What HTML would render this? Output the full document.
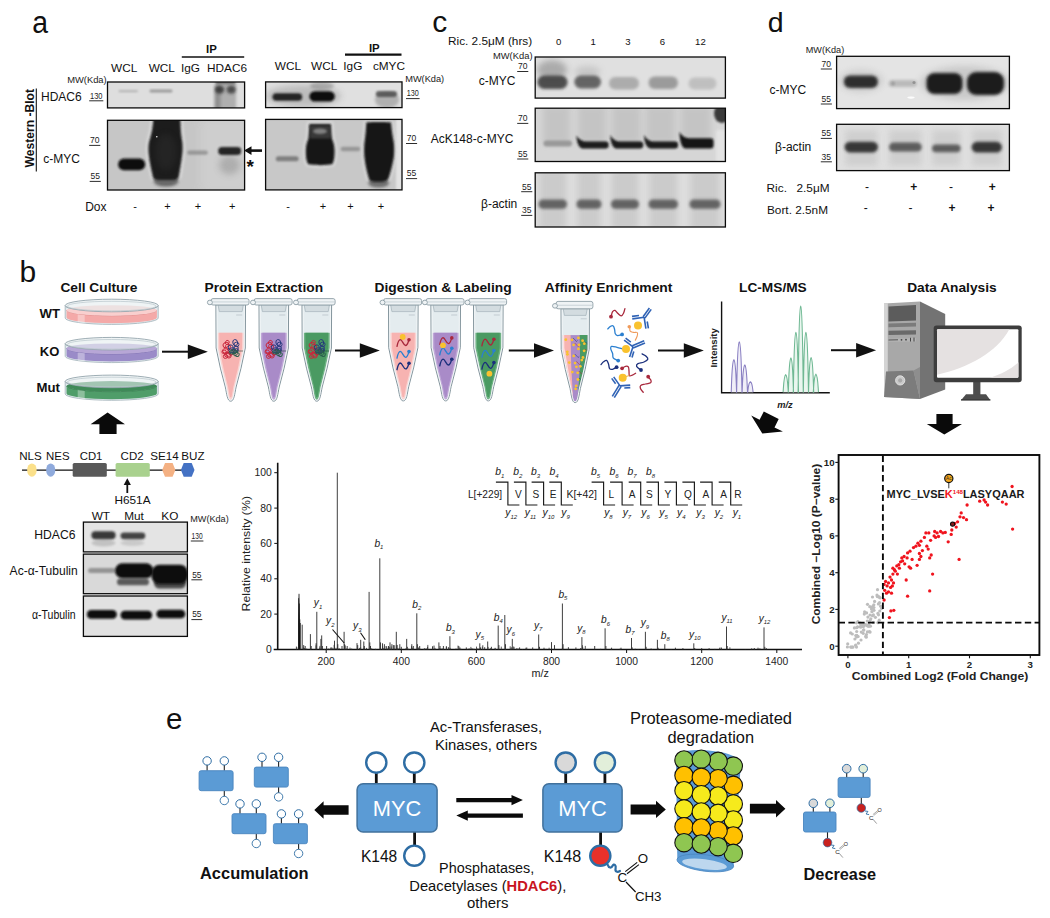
<!DOCTYPE html>
<html lang="en"><head><meta charset="utf-8"><title>Figure</title>
<style>
html,body{margin:0;padding:0;background:#fff;}
body{width:1050px;height:918px;overflow:hidden;position:relative;font-family:"Liberation Sans",Arial,sans-serif;}
svg{position:absolute;left:0;top:0;display:block;}
svg text{font-family:"Liberation Sans",Arial,sans-serif;}
</style></head><body>
<svg width="1050" height="918" viewBox="0 0 1050 918">
<defs>
<filter id="b0" x="-20%" y="-50%" width="140%" height="200%"><feGaussianBlur stdDeviation="0.5"/></filter>
<filter id="b1" x="-20%" y="-50%" width="140%" height="200%"><feGaussianBlur stdDeviation="1"/></filter>
<filter id="b2" x="-30%" y="-80%" width="160%" height="260%"><feGaussianBlur stdDeviation="1.8"/></filter>
<filter id="b3" x="-40%" y="-100%" width="180%" height="300%"><feGaussianBlur stdDeviation="3"/></filter>
<filter id="b4" x="-50%" y="-100%" width="200%" height="300%"><feGaussianBlur stdDeviation="5"/></filter>
</defs>
<rect width="1050" height="918" fill="#fff"/>

<g id="panelA">
<text x="32.3" y="32.6" font-size="31" text-anchor="start" font-weight="normal" font-style="normal" fill="#111" textLength="15.8" lengthAdjust="spacingAndGlyphs">a</text>
<text transform="translate(34,167.5) rotate(-90)" font-size="12" font-weight="bold" fill="#111" textLength="78.5" lengthAdjust="spacingAndGlyphs">Western -Blot</text>
<line x1="36.3" y1="88.5" x2="36.3" y2="171.5" stroke="#111" stroke-width="1.1"/>
<text x="111" y="71.8" font-size="11.8" text-anchor="start" font-weight="normal" font-style="normal" fill="#111" >WCL</text>
<text x="148.7" y="71.8" font-size="11.8" text-anchor="start" font-weight="normal" font-style="normal" fill="#111" >WCL</text>
<text x="181" y="71.8" font-size="11.8" text-anchor="start" font-weight="normal" font-style="normal" fill="#111" >IgG</text>
<text x="207" y="71.8" font-size="11.8" text-anchor="start" font-weight="normal" font-style="normal" fill="#111" >HDAC6</text>
<text x="211.5" y="52.7" font-size="11.4" text-anchor="middle" font-weight="bold" font-style="normal" fill="#111" >IP</text>
<line x1="181.8" y1="57" x2="244.2" y2="57" stroke="#111" stroke-width="1.6"/>
<text x="67.2" y="82.6" font-size="9" fill="#222" textLength="39.5" lengthAdjust="spacingAndGlyphs">MW(Kda)</text>
<text x="41" y="101.3" font-size="12" text-anchor="start" font-weight="normal" font-style="normal" fill="#111" >HDAC6</text>
<text x="90" y="98.6" font-size="8.5" fill="#222" textLength="12.5" lengthAdjust="spacingAndGlyphs">130</text><line x1="89.2" y1="100.8" x2="103.3" y2="100.8" stroke="#222" stroke-width="0.95"/>
<text x="90" y="143.2" font-size="8.5" fill="#222" textLength="9.5" lengthAdjust="spacingAndGlyphs">70</text><line x1="89.2" y1="145.39999999999998" x2="100.3" y2="145.39999999999998" stroke="#222" stroke-width="0.95"/>
<text x="90.5" y="179.2" font-size="8.5" fill="#222" textLength="9.5" lengthAdjust="spacingAndGlyphs">55</text><line x1="89.7" y1="181.39999999999998" x2="100.8" y2="181.39999999999998" stroke="#222" stroke-width="0.95"/>
<text x="43.2" y="163.2" font-size="12" text-anchor="start" font-weight="normal" font-style="normal" fill="#111" >c-MYC</text>
<text x="85.2" y="211" font-size="12" text-anchor="start" font-weight="normal" font-style="normal" fill="#111" >Dox</text>
<text x="135" y="210" font-size="11" text-anchor="middle" font-weight="normal" font-style="normal" fill="#111" >-</text>
<text x="167.4" y="210" font-size="11" text-anchor="middle" font-weight="normal" font-style="normal" fill="#111" >+</text>
<text x="197.9" y="210" font-size="11" text-anchor="middle" font-weight="normal" font-style="normal" fill="#111" >+</text>
<text x="232.1" y="210" font-size="11" text-anchor="middle" font-weight="normal" font-style="normal" fill="#111" >+</text>
<clipPath id="bc1"><rect x="107.5" y="82" width="137.1" height="25.900000000000006"/></clipPath><rect x="107.5" y="82" width="137.1" height="25.900000000000006" fill="#dedede"/><g clip-path="url(#bc1)"><rect x="118.5" y="89.9" width="19.5" height="2.3999999999999915" rx="1.1999999999999957" ry="1.1999999999999957" fill="#888" opacity="0.45" filter="url(#b1)"/><rect x="149.5" y="89.6" width="23.0" height="3.0" rx="1.5" ry="1.5" fill="#666" opacity="0.55" filter="url(#b1)"/><rect x="215" y="80" width="21" height="30" fill="#808080" opacity="0.5" filter="url(#b2)"/><rect x="214.5" y="86" width="6" height="24" fill="#555" opacity="0.35" filter="url(#b2)"/><ellipse cx="219.6" cy="89.6" rx="4.6" ry="4" fill="#222" opacity="0.75" filter="url(#b2)"/><ellipse cx="231.2" cy="89.6" rx="4.6" ry="4" fill="#222" opacity="0.7" filter="url(#b2)"/><rect x="216" y="81" width="19" height="3" fill="#333" opacity="0.45" filter="url(#b1)"/></g><rect x="107.5" y="82" width="137.1" height="25.900000000000006" fill="none" stroke="#0a0a0a" stroke-width="1.3"/>
<clipPath id="bc2"><rect x="107.5" y="120.3" width="137.1" height="69.7"/></clipPath><rect x="107.5" y="120.3" width="137.1" height="69.7" fill="#c6c6c6"/><g clip-path="url(#bc2)"><rect x="200" y="118" width="50" height="75" fill="#d2d2d2" opacity="0.7" filter="url(#b4)"/><path d="M153.3,119 L180.3,119 C180.6,128 180.8,134 182.3,142 C182.8,148 182.6,152 182,156 C181,164 179.6,172 178.9,176 C178,179.5 176,180 172,180 L159,180 C155,180 153.4,179.5 152.7,176 C151.5,170 149.5,162 148.8,155 C148.3,150 148.3,146 149,142 C151.5,134 152.8,128 153.3,119 Z" fill="none" stroke="#e2e2e2" stroke-width="5" opacity="0.8" filter="url(#b2)"/><ellipse cx="166" cy="181" rx="12.5" ry="5.5" fill="#444" opacity="0.75" filter="url(#b2)"/><path d="M153.3,119 L180.3,119 C180.6,128 180.8,134 182.3,142 C182.8,148 182.6,152 182,156 C181,164 179.6,172 178.9,176 C178,179.5 176,180 172,180 L159,180 C155,180 153.4,179.5 152.7,176 C151.5,170 149.5,162 148.8,155 C148.3,150 148.3,146 149,142 C151.5,134 152.8,128 153.3,119 Z" fill="#1a1a1a" filter="url(#b1)"/><ellipse cx="166" cy="152" rx="10" ry="18" fill="#383838" opacity="0.3" filter="url(#b3)"/><circle cx="156.8" cy="136.8" r="0.8" fill="#e8e8e8"/><rect x="118.1" y="158.6" width="27.099999999999994" height="11.700000000000017" rx="5.8500000000000085" ry="5.8500000000000085" fill="#0e0e0e" opacity="1" filter="url(#b1)"/><rect x="187.2" y="150.4" width="20.700000000000017" height="4.400000000000006" rx="2.200000000000003" ry="2.200000000000003" fill="#777" opacity="0.6" filter="url(#b1)"/><ellipse cx="229.5" cy="165" rx="10.5" ry="9.5" fill="#888" opacity="0.45" filter="url(#b3)"/><rect x="218.2" y="147" width="23.0" height="7.900000000000006" rx="3.950000000000003" ry="3.950000000000003" fill="#1a1a1a" opacity="0.95" filter="url(#b1)"/></g><rect x="107.5" y="120.3" width="137.1" height="69.7" fill="none" stroke="#0a0a0a" stroke-width="1.3"/>
<path d="M262,150.6 L250,150.6" stroke="#111" stroke-width="2.6" fill="none"/><path d="M244,150.6 L251.5,146.2 L251.5,155 Z" fill="#111"/>
<text x="250.3" y="172.5" font-size="19" text-anchor="middle" font-weight="bold" font-style="normal" fill="#111" >*</text>
<text x="274.8" y="70.2" font-size="11.8" text-anchor="start" font-weight="normal" font-style="normal" fill="#111" >WCL</text>
<text x="311" y="70.2" font-size="11.8" text-anchor="start" font-weight="normal" font-style="normal" fill="#111" >WCL</text>
<text x="343.3" y="70.2" font-size="11.8" text-anchor="start" font-weight="normal" font-style="normal" fill="#111" >IgG</text>
<text x="372.9" y="70.2" font-size="11.8" text-anchor="start" font-weight="normal" font-style="normal" fill="#111" >cMYC</text>
<text x="374.3" y="51.5" font-size="11.4" text-anchor="middle" font-weight="bold" font-style="normal" fill="#111" >IP</text>
<line x1="345" y1="54.6" x2="401.5" y2="54.6" stroke="#111" stroke-width="2.2"/>
<text x="405.2" y="81.6" font-size="9" fill="#222" textLength="39" lengthAdjust="spacingAndGlyphs">MW(Kda)</text>
<text x="406.8" y="96.4" font-size="8.5" fill="#222" textLength="12" lengthAdjust="spacingAndGlyphs">130</text><line x1="406.0" y1="98.60000000000001" x2="419.6" y2="98.60000000000001" stroke="#222" stroke-width="0.95"/>
<text x="406.8" y="141.3" font-size="8.5" fill="#222" textLength="9.5" lengthAdjust="spacingAndGlyphs">70</text><line x1="406.0" y1="143.5" x2="417.1" y2="143.5" stroke="#222" stroke-width="0.95"/>
<text x="406.8" y="176.4" font-size="8.5" fill="#222" textLength="9.5" lengthAdjust="spacingAndGlyphs">55</text><line x1="406.0" y1="178.6" x2="417.1" y2="178.6" stroke="#222" stroke-width="0.95"/>
<text x="288" y="210.3" font-size="11" text-anchor="middle" font-weight="normal" font-style="normal" fill="#111" >-</text>
<text x="323" y="210.3" font-size="11" text-anchor="middle" font-weight="normal" font-style="normal" fill="#111" >+</text>
<text x="350.4" y="210.3" font-size="11" text-anchor="middle" font-weight="normal" font-style="normal" fill="#111" >+</text>
<text x="381" y="210.3" font-size="11" text-anchor="middle" font-weight="normal" font-style="normal" fill="#111" >+</text>
<clipPath id="bc3"><rect x="265.6" y="81.9" width="136.39999999999998" height="25.69999999999999"/></clipPath><rect x="265.6" y="81.9" width="136.39999999999998" height="25.69999999999999" fill="#e0e0e0"/><g clip-path="url(#bc3)"><ellipse cx="303" cy="96" rx="38" ry="11" fill="#888" opacity="0.4" filter="url(#b3)"/><ellipse cx="322" cy="86" rx="12" ry="4" fill="#777" opacity="0.45" filter="url(#b2)"/><rect x="272.5" y="93.2" width="29.69999999999999" height="7.599999999999994" rx="3.799999999999997" ry="3.799999999999997" fill="#1e1e1e" opacity="0.95" filter="url(#b1)"/><rect x="309.4" y="91.2" width="25.400000000000034" height="10.399999999999991" rx="5.199999999999996" ry="5.199999999999996" fill="#101010" opacity="1" filter="url(#b1)"/><ellipse cx="387" cy="100" rx="12" ry="8" fill="#777" opacity="0.45" filter="url(#b2)"/><rect x="375.8" y="91" width="21.19999999999999" height="6" rx="3.0" ry="3.0" fill="#444" opacity="0.8" filter="url(#b1)"/></g><rect x="265.6" y="81.9" width="136.39999999999998" height="25.69999999999999" fill="none" stroke="#0a0a0a" stroke-width="1.3"/>
<clipPath id="bc4"><rect x="265.6" y="119.4" width="136.39999999999998" height="70.5"/></clipPath><rect x="265.6" y="119.4" width="136.39999999999998" height="70.5" fill="#c8c8c8"/><g clip-path="url(#bc4)"><rect x="396" y="118" width="8" height="74" fill="#e6e6e6" opacity="0.9" filter="url(#b1)"/><path d="M309.3,124 L330.8,124 C331.2,130 331.2,135 332,139 C333.5,142 334.6,146 334.6,151 C334.6,157 334,161 332.5,164 C328,165.5 312,165.5 308,164 C306.3,161 305.8,157 305.8,151 C305.8,146 306.8,142 308.3,139 C309,135 309,130 309.3,124 Z" fill="none" stroke="#e0e0e0" stroke-width="5" opacity="0.8" filter="url(#b2)"/><path d="M366.3,122.6 C366.3,121.8 391.1,121.8 391.1,122.6 C391.6,130 392.6,136 393.9,143 C394.3,148 394.3,152 393.9,157 C392.6,165 390.5,172 389,177 C388,181 385,181.8 380,181.8 L376,181.8 C371,181.8 369.2,181 368.4,177 C367,172 365.2,165 364.4,157 C364,152 364,148 364.4,143 C365.4,136 366,130 366.3,122.6 Z" fill="none" stroke="#e0e0e0" stroke-width="5" opacity="0.8" filter="url(#b2)"/><rect x="275.8" y="156.2" width="22.80000000000001" height="5.100000000000023" rx="2.5500000000000114" ry="2.5500000000000114" fill="#666" opacity="0.75" filter="url(#b1)"/><path d="M309.3,124 L330.8,124 C331.2,130 331.2,135 332,139 C333.5,142 334.6,146 334.6,151 C334.6,157 334,161 332.5,164 C328,165.5 312,165.5 308,164 C306.3,161 305.8,157 305.8,151 C305.8,146 306.8,142 308.3,139 C309,135 309,130 309.3,124 Z" fill="#141414" filter="url(#b1)"/><rect x="310" y="125.5" width="20.5" height="13" fill="#555" opacity="0.55" filter="url(#b1)"/><ellipse cx="320" cy="131.3" rx="7" ry="2.8" fill="#999" opacity="0.75" filter="url(#b1)"/><rect x="340.7" y="146.8" width="19.5" height="4.399999999999977" rx="2.1999999999999886" ry="2.1999999999999886" fill="#777" opacity="0.6" filter="url(#b1)"/><ellipse cx="378.6" cy="183" rx="10.5" ry="4.5" fill="#444" opacity="0.7" filter="url(#b2)"/><path d="M366.3,122.6 C366.3,121.8 391.1,121.8 391.1,122.6 C391.6,130 392.6,136 393.9,143 C394.3,148 394.3,152 393.9,157 C392.6,165 390.5,172 389,177 C388,181 385,181.8 380,181.8 L376,181.8 C371,181.8 369.2,181 368.4,177 C367,172 365.2,165 364.4,157 C364,152 364,148 364.4,143 C365.4,136 366,130 366.3,122.6 Z" fill="#161616" filter="url(#b1)"/></g><rect x="265.6" y="119.4" width="136.39999999999998" height="70.5" fill="none" stroke="#0a0a0a" stroke-width="1.3"/>
</g>
<g id="panelC">
<text x="432.2" y="32" font-size="30" text-anchor="start" font-weight="normal" font-style="normal" fill="#111" >c</text>
<text x="448" y="45.4" font-size="11.8" text-anchor="start" font-weight="normal" font-style="normal" fill="#111" >Ric. 2.5μM (hrs)</text>
<text x="558.7" y="44.8" font-size="9.6" text-anchor="middle" font-weight="normal" font-style="normal" fill="#111" >0</text>
<text x="593.1" y="44.8" font-size="9.6" text-anchor="middle" font-weight="normal" font-style="normal" fill="#111" >1</text>
<text x="627.9" y="44.8" font-size="9.6" text-anchor="middle" font-weight="normal" font-style="normal" fill="#111" >3</text>
<text x="662.3" y="44.8" font-size="9.6" text-anchor="middle" font-weight="normal" font-style="normal" fill="#111" >6</text>
<text x="700.4" y="44.8" font-size="9.6" text-anchor="middle" font-weight="normal" font-style="normal" fill="#111" >12</text>
<text x="493" y="59.3" font-size="9" fill="#222" textLength="39.5" lengthAdjust="spacingAndGlyphs">MW(Kda)</text>
<text x="518" y="69.3" font-size="8.5" fill="#222" textLength="9.5" lengthAdjust="spacingAndGlyphs">70</text><line x1="517.2" y1="71.5" x2="528.3" y2="71.5" stroke="#222" stroke-width="0.95"/>
<text x="478.8" y="85.4" font-size="12" text-anchor="start" font-weight="normal" font-style="normal" fill="#111" >c-MYC</text>
<text x="518" y="121.2" font-size="8.5" fill="#222" textLength="9.5" lengthAdjust="spacingAndGlyphs">70</text><line x1="517.2" y1="123.4" x2="528.3" y2="123.4" stroke="#222" stroke-width="0.95"/>
<text x="430.7" y="143" font-size="12" text-anchor="start" font-weight="normal" font-style="normal" fill="#111" >AcK148-c-MYC</text>
<text x="518" y="156.8" font-size="8.5" fill="#222" textLength="9.5" lengthAdjust="spacingAndGlyphs">55</text><line x1="517.2" y1="159.0" x2="528.3" y2="159.0" stroke="#222" stroke-width="0.95"/>
<text x="522" y="189.5" font-size="8.5" fill="#222" textLength="9.5" lengthAdjust="spacingAndGlyphs">55</text><line x1="521.2" y1="191.7" x2="532.3" y2="191.7" stroke="#222" stroke-width="0.95"/>
<text x="481" y="208" font-size="12" text-anchor="start" font-weight="normal" font-style="normal" fill="#111" >β-actin</text>
<text x="522" y="213.2" font-size="8.5" fill="#222" textLength="9.5" lengthAdjust="spacingAndGlyphs">35</text><line x1="521.2" y1="215.39999999999998" x2="532.3" y2="215.39999999999998" stroke="#222" stroke-width="0.95"/>
<clipPath id="bc5"><rect x="535.2" y="57" width="190.19999999999993" height="41.099999999999994"/></clipPath><rect x="535.2" y="57" width="190.19999999999993" height="41.099999999999994" fill="#e0e0e0"/><g clip-path="url(#bc5)"><ellipse cx="552" cy="70" rx="15" ry="10" fill="#777" opacity="0.5" filter="url(#b3)"/><rect x="537.5" y="75.5" width="30.0" height="13.5" rx="6.75" ry="6.75" fill="#3c3c3c" opacity="0.9" filter="url(#b2)"/><ellipse cx="587.5" cy="72" rx="13" ry="6" fill="#999" opacity="0.35" filter="url(#b3)"/><rect x="574.3" y="75.5" width="26.700000000000045" height="13.0" rx="6.5" ry="6.5" fill="#505050" opacity="0.85" filter="url(#b2)"/><rect x="609" y="77" width="30" height="12.5" rx="6.25" ry="6.25" fill="#8a8a8a" opacity="0.6" filter="url(#b2)"/><rect x="648.5" y="76.5" width="29.5" height="12.5" rx="6.25" ry="6.25" fill="#777" opacity="0.65" filter="url(#b2)"/><rect x="688.5" y="77.5" width="28.0" height="12.0" rx="6.0" ry="6.0" fill="#999" opacity="0.45" filter="url(#b2)"/></g><rect x="535.2" y="57" width="190.19999999999993" height="41.099999999999994" fill="none" stroke="#0a0a0a" stroke-width="1.3"/>
<clipPath id="bc6"><rect x="535.2" y="108.2" width="190.19999999999993" height="53.3"/></clipPath><rect x="535.2" y="108.2" width="190.19999999999993" height="53.3" fill="#d6d6d6"/><g clip-path="url(#bc6)"><rect x="543" y="106" width="27" height="38" fill="#aaa" opacity="0.4" filter="url(#b3)"/><rect x="578" y="106" width="28" height="38" fill="#aaa" opacity="0.4" filter="url(#b3)"/><rect x="612" y="106" width="28.5" height="38" fill="#aaa" opacity="0.4" filter="url(#b3)"/><rect x="646" y="106" width="29" height="38" fill="#aaa" opacity="0.4" filter="url(#b3)"/><rect x="681" y="106" width="30" height="38" fill="#aaa" opacity="0.4" filter="url(#b3)"/><rect x="543.5" y="140.4" width="28.5" height="6.0" rx="3.0" ry="3.0" fill="#888" opacity="0.75" filter="url(#b1)"/><path d="M576.4,135.4 C578.9,139.6 582.4,141.4 587.4,141.4 L605.6,141.4 Q608.6,141.4 608.6,144.4 L608.6,145.6 Q608.6,148.6 605.6,148.6 L583.4,148.6 C579.4,148.6 576.9,143.6 576.4,135.4 Z" fill="#1c1c1c" filter="url(#b1)"/><path d="M610.2,134.9 C612.7,139.5 616.2,141.4 621.2,141.4 L640.2,141.4 Q643.2,141.4 643.2,144.4 L643.2,145.6 Q643.2,148.6 640.2,148.6 L617.2,148.6 C613.2,148.6 610.7,143.6 610.2,134.9 Z" fill="#1c1c1c" filter="url(#b1)"/><path d="M644,134.9 C646.5,139.5 650,141.4 655,141.4 L675,141.4 Q678,141.4 678,144.4 L678,145.4 Q678,148.4 675,148.4 L651,148.4 C647,148.4 644.5,143.4 644,134.9 Z" fill="#1c1c1c" filter="url(#b1)"/><path d="M679.4,131.7 C681.9,136.2 685.4,138.2 690.4,138.2 L710.6,138.2 Q713.6,138.2 713.6,141.2 L713.6,145.6 Q713.6,148.6 710.6,148.6 L686.4,148.6 C682.4,148.6 679.9,143.6 679.4,131.7 Z" fill="#161616" filter="url(#b1)"/><ellipse cx="722" cy="113.5" rx="8" ry="9.5" fill="#2c2c2c" opacity="0.9" filter="url(#b1)"/><rect x="716" y="130" width="12" height="34" fill="#e6e6e6" opacity="0.8" filter="url(#b2)"/></g><rect x="535.2" y="108.2" width="190.19999999999993" height="53.3" fill="none" stroke="#0a0a0a" stroke-width="1.3"/>
<clipPath id="bc7"><rect x="535.2" y="172.8" width="190.19999999999993" height="54.19999999999999"/></clipPath><rect x="535.2" y="172.8" width="190.19999999999993" height="54.19999999999999" fill="#dedede"/><g clip-path="url(#bc7)"><rect x="539.5" y="170" width="26.5" height="60" fill="#a0a0a0" opacity="0.3" filter="url(#b3)"/><rect x="577.5" y="170" width="23.0" height="60" fill="#a0a0a0" opacity="0.3" filter="url(#b3)"/><rect x="612" y="170" width="26" height="60" fill="#a0a0a0" opacity="0.3" filter="url(#b3)"/><rect x="649.5" y="170" width="27.5" height="60" fill="#a0a0a0" opacity="0.3" filter="url(#b3)"/><rect x="690.5" y="170" width="29.0" height="60" fill="#a0a0a0" opacity="0.3" filter="url(#b3)"/><rect x="538.5" y="199.5" width="28.5" height="9.300000000000011" rx="4.650000000000006" ry="4.650000000000006" fill="#4a4a4a" opacity="0.8" filter="url(#b2)"/><rect x="576.5" y="199.5" width="25.0" height="9.300000000000011" rx="4.650000000000006" ry="4.650000000000006" fill="#4a4a4a" opacity="0.8" filter="url(#b2)"/><rect x="611" y="199.5" width="28" height="9.300000000000011" rx="4.650000000000006" ry="4.650000000000006" fill="#4a4a4a" opacity="0.8" filter="url(#b2)"/><rect x="648.5" y="199.5" width="29.5" height="9.300000000000011" rx="4.650000000000006" ry="4.650000000000006" fill="#4a4a4a" opacity="0.8" filter="url(#b2)"/><rect x="689.5" y="199.5" width="31.0" height="9.300000000000011" rx="4.650000000000006" ry="4.650000000000006" fill="#4a4a4a" opacity="0.8" filter="url(#b2)"/></g><rect x="535.2" y="172.8" width="190.19999999999993" height="54.19999999999999" fill="none" stroke="#0a0a0a" stroke-width="1.3"/>
</g>
<g id="panelD">
<text x="767.8" y="32" font-size="28.5" text-anchor="start" font-weight="normal" font-style="normal" fill="#111" >d</text>
<text x="805.7" y="52.8" font-size="9" fill="#222" textLength="38.5" lengthAdjust="spacingAndGlyphs">MW(Kda)</text>
<text x="821.6" y="66.8" font-size="8.5" fill="#222" textLength="9.5" lengthAdjust="spacingAndGlyphs">70</text><line x1="820.8000000000001" y1="69.0" x2="831.9" y2="69.0" stroke="#222" stroke-width="0.95"/>
<text x="769.4" y="93.5" font-size="12" text-anchor="start" font-weight="normal" font-style="normal" fill="#111" >c-MYC</text>
<text x="821.6" y="101.8" font-size="8.5" fill="#222" textLength="9.5" lengthAdjust="spacingAndGlyphs">55</text><line x1="820.8000000000001" y1="104.0" x2="831.9" y2="104.0" stroke="#222" stroke-width="0.95"/>
<text x="821.6" y="136.2" font-size="8.5" fill="#222" textLength="9.5" lengthAdjust="spacingAndGlyphs">55</text><line x1="820.8000000000001" y1="138.39999999999998" x2="831.9" y2="138.39999999999998" stroke="#222" stroke-width="0.95"/>
<text x="775" y="151" font-size="12" text-anchor="start" font-weight="normal" font-style="normal" fill="#111" >β-actin</text>
<text x="821.6" y="159.6" font-size="8.5" fill="#222" textLength="9.5" lengthAdjust="spacingAndGlyphs">35</text><line x1="820.8000000000001" y1="161.79999999999998" x2="831.9" y2="161.79999999999998" stroke="#222" stroke-width="0.95"/>
<text x="766.6" y="192" font-size="11.8" text-anchor="start" font-weight="normal" font-style="normal" fill="#111" >Ric.</text>
<text x="796.5" y="192" font-size="11.8" text-anchor="start" font-weight="normal" font-style="normal" fill="#111" >2.5μM</text>
<text x="767" y="213.6" font-size="11.8" text-anchor="start" font-weight="normal" font-style="normal" fill="#111" >Bort. 2.5nM</text>
<text x="867" y="190.5" font-size="12" text-anchor="middle" font-weight="normal" font-style="normal" fill="#111" >-</text>
<text x="913.7" y="190.5" font-size="12" text-anchor="middle" font-weight="bold" font-style="normal" fill="#111" >+</text>
<text x="950.9" y="190.5" font-size="12" text-anchor="middle" font-weight="normal" font-style="normal" fill="#111" >-</text>
<text x="992.3" y="190.5" font-size="12" text-anchor="middle" font-weight="bold" font-style="normal" fill="#111" >+</text>
<text x="865.7" y="211.5" font-size="12" text-anchor="middle" font-weight="normal" font-style="normal" fill="#111" >-</text>
<text x="910.6" y="211.5" font-size="12" text-anchor="middle" font-weight="normal" font-style="normal" fill="#111" >-</text>
<text x="952" y="211.5" font-size="12" text-anchor="middle" font-weight="bold" font-style="normal" fill="#111" >+</text>
<text x="990.9" y="211.5" font-size="12" text-anchor="middle" font-weight="bold" font-style="normal" fill="#111" >+</text>
<clipPath id="bc8"><rect x="836.6" y="56.3" width="172.79999999999995" height="52.3"/></clipPath><rect x="836.6" y="56.3" width="172.79999999999995" height="52.3" fill="#e4e4e4"/><g clip-path="url(#bc8)"><ellipse cx="965" cy="83" rx="45" ry="17" fill="#999" opacity="0.35" filter="url(#b3)"/><ellipse cx="861" cy="81" rx="22" ry="11" fill="#999" opacity="0.3" filter="url(#b3)"/><rect x="843.8" y="75.5" width="34.200000000000045" height="12.5" rx="6.25" ry="6.25" fill="#262626" opacity="0.95" filter="url(#b2)"/><rect x="888.5" y="80" width="28.5" height="7" rx="3.5" ry="3.5" fill="#999" opacity="0.55" filter="url(#b2)"/><circle cx="893" cy="83.5" r="2" fill="#888" opacity="0.6" filter="url(#b1)"/><circle cx="914" cy="82.5" r="1.6" fill="#777" opacity="0.6" filter="url(#b0)"/><ellipse cx="911" cy="97.6" rx="3.6" ry="1.1" fill="#fff" opacity="0.9" filter="url(#b0)"/><rect x="926.5" y="73" width="36.0" height="21" rx="8" ry="8" fill="#1e1e1e" opacity="1" filter="url(#b2)"/><rect x="967" y="72" width="37" height="23" rx="9" ry="9" fill="#1e1e1e" opacity="1" filter="url(#b2)"/></g><rect x="836.6" y="56.3" width="172.79999999999995" height="52.3" fill="none" stroke="#0a0a0a" stroke-width="1.3"/>
<clipPath id="bc9"><rect x="836.6" y="124.3" width="172.79999999999995" height="46.3"/></clipPath><rect x="836.6" y="124.3" width="172.79999999999995" height="46.3" fill="#e0e0e0"/><g clip-path="url(#bc9)"><rect x="845" y="130" width="32.60000000000002" height="36" fill="#aaa" opacity="0.3" filter="url(#b3)"/><rect x="889" y="130" width="32.60000000000002" height="36" fill="#aaa" opacity="0.3" filter="url(#b3)"/><rect x="932" y="130" width="28.5" height="36" fill="#aaa" opacity="0.3" filter="url(#b3)"/><rect x="971.8" y="130" width="30.200000000000045" height="36" fill="#aaa" opacity="0.3" filter="url(#b3)"/><rect x="844.5" y="141.8" width="33.5" height="10.599999999999994" rx="5.299999999999997" ry="5.299999999999997" fill="#2c2c2c" opacity="0.92" filter="url(#b2)"/><rect x="889" y="142.6" width="32.799999999999955" height="9.0" rx="4.5" ry="4.5" fill="#484848" opacity="0.85" filter="url(#b2)"/><rect x="932" y="144.4" width="28.600000000000023" height="7.799999999999983" rx="3.8999999999999915" ry="3.8999999999999915" fill="#484848" opacity="0.85" filter="url(#b2)"/><rect x="971.6" y="141.8" width="30.399999999999977" height="10.799999999999983" rx="5.3999999999999915" ry="5.3999999999999915" fill="#2c2c2c" opacity="0.92" filter="url(#b2)"/></g><rect x="836.6" y="124.3" width="172.79999999999995" height="46.3" fill="none" stroke="#0a0a0a" stroke-width="1.3"/>
</g>
<g id="panelB1">
<text x="19.5" y="281.8" font-size="30" text-anchor="start" font-weight="normal" font-style="normal" fill="#111" >b</text>
<text x="98.9" y="292.2" font-size="13.2" text-anchor="middle" font-weight="bold" fill="#111" textLength="77" lengthAdjust="spacingAndGlyphs">Cell Culture</text>
<text x="263.8" y="292" font-size="13.2" text-anchor="middle" font-weight="bold" fill="#111" textLength="118.5" lengthAdjust="spacingAndGlyphs">Protein Extraction</text>
<text x="443.1" y="292" font-size="13.2" text-anchor="middle" font-weight="bold" fill="#111" textLength="137" lengthAdjust="spacingAndGlyphs">Digestion &amp; Labeling</text>
<text x="608.6" y="292" font-size="13.2" text-anchor="middle" font-weight="bold" fill="#111" textLength="127.6" lengthAdjust="spacingAndGlyphs">Affinity Enrichment</text>
<text x="772.9" y="292" font-size="13.2" text-anchor="middle" font-weight="bold" fill="#111" textLength="67.6" lengthAdjust="spacingAndGlyphs">LC-MS/MS</text>
<text x="951.9" y="292" font-size="13.2" text-anchor="middle" font-weight="bold" fill="#111" textLength="89.5" lengthAdjust="spacingAndGlyphs">Data Analysis</text>
<text x="60" y="317.9" font-size="13.2" text-anchor="end" font-weight="bold" font-style="normal" fill="#111" >WT</text>
<text x="59.3" y="355.5" font-size="13" text-anchor="end" font-weight="bold" font-style="normal" fill="#111" >KO</text>
<text x="60" y="392.3" font-size="13.2" text-anchor="end" font-weight="bold" font-style="normal" fill="#111" >Mut</text>
<path d="M65.2,305.5 L65.2,318.09999999999997 A46.5,6.3 0 0 0 158.2,318.09999999999997 L158.2,305.5 A46.5,6.3 0 0 1 65.2,305.5 Z" fill="#e3ecef" stroke="#9fb0b8" stroke-width="0.8"/><path d="M66.5,310.0 L66.5,317.49999999999994 A45.2,5.8 0 0 0 156.9,317.49999999999994 L156.9,310.0 A45.2,5.8 0 0 1 66.5,310.0 Z" fill="#f4a9a8"/><path d="M66.5,310.0 A45.2,5.8 0 0 0 156.9,310.0" fill="none" stroke="#e08e8e" stroke-width="0.8"/><path d="M66.5,310.0 A45.2,5.8 0 0 0 156.9,310.0 A45.2,4.8 0 0 0 66.5,310.0 Z" fill="#f9cfce"/><path d="M77.7,314.2 L77.7,322.29999999999995 L84.7,323.29999999999995 L84.7,315.0 Z" fill="#fff" opacity="0.35"/><ellipse cx="111.7" cy="305.5" rx="46.5" ry="6.3" fill="#e4ecee" fill-opacity="0.6" stroke="#94a5ad" stroke-width="0.9"/><ellipse cx="111.7" cy="306.1" rx="44.3" ry="4.8" fill="none" stroke="#b9c6cc" stroke-width="0.7"/>
<path d="M65.2,343.7 L65.2,356.29999999999995 A46.5,6.3 0 0 0 158.2,356.29999999999995 L158.2,343.7 A46.5,6.3 0 0 1 65.2,343.7 Z" fill="#e3ecef" stroke="#9fb0b8" stroke-width="0.8"/><path d="M66.5,348.2 L66.5,355.69999999999993 A45.2,5.8 0 0 0 156.9,355.69999999999993 L156.9,348.2 A45.2,5.8 0 0 1 66.5,348.2 Z" fill="#9a8bc8"/><path d="M66.5,348.2 A45.2,5.8 0 0 0 156.9,348.2" fill="none" stroke="#7f70b0" stroke-width="0.8"/><path d="M66.5,348.2 A45.2,5.8 0 0 0 156.9,348.2 A45.2,4.8 0 0 0 66.5,348.2 Z" fill="#b7a6d6"/><path d="M77.7,352.4 L77.7,360.49999999999994 L84.7,361.49999999999994 L84.7,353.2 Z" fill="#fff" opacity="0.35"/><ellipse cx="111.7" cy="343.7" rx="46.5" ry="6.3" fill="#e4ecee" fill-opacity="0.6" stroke="#94a5ad" stroke-width="0.9"/><ellipse cx="111.7" cy="344.3" rx="44.3" ry="4.8" fill="none" stroke="#b9c6cc" stroke-width="0.7"/>
<path d="M65.2,381.40000000000003 L65.2,394.0 A46.5,6.3 0 0 0 158.2,394.0 L158.2,381.40000000000003 A46.5,6.3 0 0 1 65.2,381.40000000000003 Z" fill="#e3ecef" stroke="#9fb0b8" stroke-width="0.8"/><path d="M66.5,385.90000000000003 L66.5,393.4 A45.2,5.8 0 0 0 156.9,393.4 L156.9,385.90000000000003 A45.2,5.8 0 0 1 66.5,385.90000000000003 Z" fill="#4f9d69"/><path d="M66.5,385.90000000000003 A45.2,5.8 0 0 0 156.9,385.90000000000003" fill="none" stroke="#357a4c" stroke-width="0.8"/><path d="M66.5,385.90000000000003 A45.2,5.8 0 0 0 156.9,385.90000000000003 A45.2,4.8 0 0 0 66.5,385.90000000000003 Z" fill="#3f8a58"/><path d="M77.7,390.1 L77.7,398.2 L84.7,399.2 L84.7,390.90000000000003 Z" fill="#fff" opacity="0.35"/><ellipse cx="111.7" cy="381.40000000000003" rx="46.5" ry="6.3" fill="#e4ecee" fill-opacity="0.6" stroke="#94a5ad" stroke-width="0.9"/><ellipse cx="111.7" cy="382.00000000000006" rx="44.3" ry="4.8" fill="none" stroke="#b9c6cc" stroke-width="0.7"/>
<line x1="162" y1="351.7" x2="188.8" y2="351.7" stroke="#111" stroke-width="2.0"/><path d="M207.8,351.7 L187.8,344.4 L187.8,359.0 Z" fill="#111"/>
<line x1="335" y1="350.5" x2="360.8" y2="350.5" stroke="#111" stroke-width="2.0"/><path d="M379.8,350.5 L359.8,343.2 L359.8,357.8 Z" fill="#111"/>
<line x1="508.8" y1="350.5" x2="535" y2="350.5" stroke="#111" stroke-width="2.0"/><path d="M554,350.5 L534,343.2 L534,357.8 Z" fill="#111"/>
<line x1="658" y1="350.5" x2="684.8" y2="350.5" stroke="#111" stroke-width="2.0"/><path d="M703.8,350.5 L683.8,343.2 L683.8,357.8 Z" fill="#111"/>
<line x1="831" y1="350.2" x2="857.1" y2="350.2" stroke="#111" stroke-width="2.0"/><path d="M876.1,350.2 L856.1,342.9 L856.1,357.5 Z" fill="#111"/>
<path d="M215.90,305.00 L216.10,348.00 L220.40,368.20 L225.30,387.00 C226.80,394.20 227.30,401.20 230.7,401.20 C234.10,401.20 234.60,394.20 236.10,387.00 L241.00,368.20 L245.30,348.00 L245.50,305.00 Z" fill="#e4ecef" stroke="#84959d" stroke-width="1"/><clipPath id="tc10"><path d="M217.60,305.00 L217.80,348.00 L222.10,368.20 L226.83,387.00 C227.99,392.84 228.32,399.84 230.7,399.84 C233.08,399.84 233.41,392.84 234.57,387.00 L239.30,368.20 L243.60,348.00 L243.80,305.00 Z"/></clipPath><g clip-path="url(#tc10)"><rect x="210.7" y="332.8" width="40" height="73.39999999999998" fill="#fbd3d1"/><path d="M219.2,332.8 L242.2,332.8 L242.0,348 L237.89999999999998,368.2 L233.29999999999998,387 L231.5,397.2 L229.89999999999998,397.2 L228.1,387 L223.5,368.2 L219.39999999999998,348 Z" fill="#f7b3b1"/></g><ellipse cx="230.7" cy="352.0" rx="3.2" ry="2.9" transform="rotate(47 230.7 352.0)" fill="none" stroke="#c8283c" stroke-width="0.9"/><ellipse cx="227.9" cy="355.1" rx="3.4" ry="2.4" transform="rotate(30 227.9 355.1)" fill="none" stroke="#c8283c" stroke-width="0.9"/><ellipse cx="225.5" cy="356.4" rx="2.2" ry="2.0" transform="rotate(171 225.5 356.4)" fill="none" stroke="#c8283c" stroke-width="0.9"/><ellipse cx="225.9" cy="345.0" rx="2.5" ry="2.9" transform="rotate(60 225.9 345.0)" fill="none" stroke="#c8283c" stroke-width="0.9"/><ellipse cx="225.7" cy="351.1" rx="3.3" ry="2.3" transform="rotate(15 225.7 351.1)" fill="none" stroke="#c8283c" stroke-width="0.9"/><ellipse cx="227.2" cy="342.5" rx="2.2" ry="1.9" transform="rotate(125 227.2 342.5)" fill="none" stroke="#c8283c" stroke-width="0.9"/><ellipse cx="224.2" cy="352.0" rx="2.3" ry="1.8" transform="rotate(4 224.2 352.0)" fill="none" stroke="#c8283c" stroke-width="0.9"/><ellipse cx="228.6" cy="354.5" rx="2.4" ry="1.9" transform="rotate(2 228.6 354.5)" fill="none" stroke="#c8283c" stroke-width="0.9"/><ellipse cx="228.0" cy="346.4" rx="2.2" ry="2.5" transform="rotate(108 228.0 346.4)" fill="none" stroke="#c8283c" stroke-width="0.9"/><ellipse cx="235.2" cy="342.5" rx="3.0" ry="2.4" transform="rotate(78 235.2 342.5)" fill="none" stroke="#26387c" stroke-width="0.9"/><ellipse cx="232.3" cy="350.3" rx="3.4" ry="2.6" transform="rotate(179 232.3 350.3)" fill="none" stroke="#26387c" stroke-width="0.9"/><ellipse cx="236.5" cy="344.4" rx="2.2" ry="2.5" transform="rotate(94 236.5 344.4)" fill="none" stroke="#26387c" stroke-width="0.9"/><ellipse cx="235.1" cy="350.9" rx="3.3" ry="1.8" transform="rotate(159 235.1 350.9)" fill="none" stroke="#26387c" stroke-width="0.9"/><ellipse cx="230.7" cy="347.5" rx="2.5" ry="2.6" transform="rotate(171 230.7 347.5)" fill="none" stroke="#26387c" stroke-width="0.9"/><ellipse cx="236.0" cy="348.6" rx="2.1" ry="2.5" transform="rotate(21 236.0 348.6)" fill="none" stroke="#26387c" stroke-width="0.9"/><ellipse cx="235.3" cy="353.2" rx="2.1" ry="2.6" transform="rotate(17 235.3 353.2)" fill="none" stroke="#2a5f4c" stroke-width="0.9"/><ellipse cx="233.8" cy="351.6" rx="3.1" ry="2.0" transform="rotate(8 233.8 351.6)" fill="none" stroke="#2a5f4c" stroke-width="0.9"/><ellipse cx="231.9" cy="352.4" rx="2.8" ry="1.6" transform="rotate(4 231.9 352.4)" fill="none" stroke="#2a5f4c" stroke-width="0.9"/><ellipse cx="237.0" cy="354.4" rx="2.2" ry="2.0" transform="rotate(23 237.0 354.4)" fill="none" stroke="#2a5f4c" stroke-width="0.9"/><line x1="236.7" y1="351" x2="243.2" y2="351" stroke="#24463c" stroke-width="0.6"/><path d="M217.00,305.00 L217.20,348.00 L221.50,368.20 L226.29,387.00 C227.57,393.32 227.96,400.32 230.7,400.32 C233.44,400.32 233.83,393.32 235.11,387.00 L239.90,368.20 L244.20,348.00 L244.40,305.00 Z" fill="none" stroke="#fff" stroke-width="0.7" opacity="0.75"/><path d="M218.09999999999997,305.0 L243.3,305.0 L242.1,311.6 L219.29999999999998,311.6 Z" fill="#d3dce0" stroke="#9aaab2" stroke-width="0.6"/><line x1="236.2" y1="315.0" x2="242.2" y2="315.0" stroke="#b4bfc5" stroke-width="0.7"/><rect x="210.99999999999997" y="298.6" width="38.0" height="6.4" rx="2" fill="#eff3f5" stroke="#8d9ea6" stroke-width="0.9"/><line x1="212.89999999999998" y1="301.928" x2="248.0" y2="301.928" stroke="#b9c4ca" stroke-width="0.7"/><ellipse cx="209.89999999999998" cy="302.44" rx="2.5" ry="2.3" fill="#eff3f5" stroke="#8d9ea6" stroke-width="0.9"/>
<path d="M259.00,305.00 L259.20,348.00 L263.50,368.20 L268.40,387.00 C269.90,394.20 270.40,401.20 273.8,401.20 C277.20,401.20 277.70,394.20 279.20,387.00 L284.10,368.20 L288.40,348.00 L288.60,305.00 Z" fill="#e4ecef" stroke="#84959d" stroke-width="1"/><clipPath id="tc11"><path d="M260.70,305.00 L260.90,348.00 L265.20,368.20 L269.93,387.00 C271.09,392.84 271.42,399.84 273.8,399.84 C276.18,399.84 276.51,392.84 277.67,387.00 L282.40,368.20 L286.70,348.00 L286.90,305.00 Z"/></clipPath><g clip-path="url(#tc11)"><rect x="253.8" y="332.8" width="40" height="73.39999999999998" fill="#c0a8d8"/><path d="M262.3,332.8 L285.3,332.8 L285.1,348 L281.0,368.2 L276.40000000000003,387 L274.6,397.2 L273.0,397.2 L271.2,387 L266.6,368.2 L262.5,348 Z" fill="#a98bc8"/></g><ellipse cx="273.8" cy="352.0" rx="3.2" ry="2.9" transform="rotate(47 273.8 352.0)" fill="none" stroke="#c8283c" stroke-width="0.9"/><ellipse cx="271.0" cy="355.1" rx="3.4" ry="2.4" transform="rotate(30 271.0 355.1)" fill="none" stroke="#c8283c" stroke-width="0.9"/><ellipse cx="268.6" cy="356.4" rx="2.2" ry="2.0" transform="rotate(171 268.6 356.4)" fill="none" stroke="#c8283c" stroke-width="0.9"/><ellipse cx="269.0" cy="345.0" rx="2.5" ry="2.9" transform="rotate(60 269.0 345.0)" fill="none" stroke="#c8283c" stroke-width="0.9"/><ellipse cx="268.8" cy="351.1" rx="3.3" ry="2.3" transform="rotate(15 268.8 351.1)" fill="none" stroke="#c8283c" stroke-width="0.9"/><ellipse cx="270.3" cy="342.5" rx="2.2" ry="1.9" transform="rotate(125 270.3 342.5)" fill="none" stroke="#c8283c" stroke-width="0.9"/><ellipse cx="267.3" cy="352.0" rx="2.3" ry="1.8" transform="rotate(4 267.3 352.0)" fill="none" stroke="#c8283c" stroke-width="0.9"/><ellipse cx="271.7" cy="354.5" rx="2.4" ry="1.9" transform="rotate(2 271.7 354.5)" fill="none" stroke="#c8283c" stroke-width="0.9"/><ellipse cx="271.1" cy="346.4" rx="2.2" ry="2.5" transform="rotate(108 271.1 346.4)" fill="none" stroke="#c8283c" stroke-width="0.9"/><ellipse cx="278.3" cy="342.5" rx="3.0" ry="2.4" transform="rotate(78 278.3 342.5)" fill="none" stroke="#26387c" stroke-width="0.9"/><ellipse cx="275.4" cy="350.3" rx="3.4" ry="2.6" transform="rotate(179 275.4 350.3)" fill="none" stroke="#26387c" stroke-width="0.9"/><ellipse cx="279.6" cy="344.4" rx="2.2" ry="2.5" transform="rotate(94 279.6 344.4)" fill="none" stroke="#26387c" stroke-width="0.9"/><ellipse cx="278.2" cy="350.9" rx="3.3" ry="1.8" transform="rotate(159 278.2 350.9)" fill="none" stroke="#26387c" stroke-width="0.9"/><ellipse cx="273.8" cy="347.5" rx="2.5" ry="2.6" transform="rotate(171 273.8 347.5)" fill="none" stroke="#26387c" stroke-width="0.9"/><ellipse cx="279.1" cy="348.6" rx="2.1" ry="2.5" transform="rotate(21 279.1 348.6)" fill="none" stroke="#26387c" stroke-width="0.9"/><ellipse cx="278.4" cy="353.2" rx="2.1" ry="2.6" transform="rotate(17 278.4 353.2)" fill="none" stroke="#2a5f4c" stroke-width="0.9"/><ellipse cx="276.9" cy="351.6" rx="3.1" ry="2.0" transform="rotate(8 276.9 351.6)" fill="none" stroke="#2a5f4c" stroke-width="0.9"/><ellipse cx="275.0" cy="352.4" rx="2.8" ry="1.6" transform="rotate(4 275.0 352.4)" fill="none" stroke="#2a5f4c" stroke-width="0.9"/><ellipse cx="280.1" cy="354.4" rx="2.2" ry="2.0" transform="rotate(23 280.1 354.4)" fill="none" stroke="#2a5f4c" stroke-width="0.9"/><line x1="279.8" y1="351" x2="286.3" y2="351" stroke="#24463c" stroke-width="0.6"/><path d="M260.10,305.00 L260.30,348.00 L264.60,368.20 L269.39,387.00 C270.67,393.32 271.06,400.32 273.8,400.32 C276.54,400.32 276.93,393.32 278.21,387.00 L283.00,368.20 L287.30,348.00 L287.50,305.00 Z" fill="none" stroke="#fff" stroke-width="0.7" opacity="0.75"/><path d="M261.2,305.0 L286.40000000000003,305.0 L285.20000000000005,311.6 L262.4,311.6 Z" fill="#d3dce0" stroke="#9aaab2" stroke-width="0.6"/><line x1="279.3" y1="315.0" x2="285.3" y2="315.0" stroke="#b4bfc5" stroke-width="0.7"/><rect x="254.1" y="298.6" width="38.0" height="6.4" rx="2" fill="#eff3f5" stroke="#8d9ea6" stroke-width="0.9"/><line x1="256.0" y1="301.928" x2="291.1" y2="301.928" stroke="#b9c4ca" stroke-width="0.7"/><ellipse cx="253.0" cy="302.44" rx="2.5" ry="2.3" fill="#eff3f5" stroke="#8d9ea6" stroke-width="0.9"/>
<path d="M302.00,305.00 L302.20,348.00 L306.50,368.20 L311.40,387.00 C312.90,394.20 313.40,401.20 316.8,401.20 C320.20,401.20 320.70,394.20 322.20,387.00 L327.10,368.20 L331.40,348.00 L331.60,305.00 Z" fill="#e4ecef" stroke="#84959d" stroke-width="1"/><clipPath id="tc12"><path d="M303.70,305.00 L303.90,348.00 L308.20,368.20 L312.93,387.00 C314.09,392.84 314.42,399.84 316.8,399.84 C319.18,399.84 319.51,392.84 320.67,387.00 L325.40,368.20 L329.70,348.00 L329.90,305.00 Z"/></clipPath><g clip-path="url(#tc12)"><rect x="296.8" y="332.8" width="40" height="73.39999999999998" fill="#6fb384"/><path d="M305.3,332.8 L328.3,332.8 L328.1,348 L324.0,368.2 L319.40000000000003,387 L317.6,397.2 L316.0,397.2 L314.2,387 L309.6,368.2 L305.5,348 Z" fill="#4a9a62"/></g><ellipse cx="316.8" cy="352.0" rx="3.2" ry="2.9" transform="rotate(47 316.8 352.0)" fill="none" stroke="#c8283c" stroke-width="0.9"/><ellipse cx="314.0" cy="355.1" rx="3.4" ry="2.4" transform="rotate(30 314.0 355.1)" fill="none" stroke="#c8283c" stroke-width="0.9"/><ellipse cx="311.6" cy="356.4" rx="2.2" ry="2.0" transform="rotate(171 311.6 356.4)" fill="none" stroke="#c8283c" stroke-width="0.9"/><ellipse cx="312.0" cy="345.0" rx="2.5" ry="2.9" transform="rotate(60 312.0 345.0)" fill="none" stroke="#c8283c" stroke-width="0.9"/><ellipse cx="311.8" cy="351.1" rx="3.3" ry="2.3" transform="rotate(15 311.8 351.1)" fill="none" stroke="#c8283c" stroke-width="0.9"/><ellipse cx="313.3" cy="342.5" rx="2.2" ry="1.9" transform="rotate(125 313.3 342.5)" fill="none" stroke="#c8283c" stroke-width="0.9"/><ellipse cx="310.3" cy="352.0" rx="2.3" ry="1.8" transform="rotate(4 310.3 352.0)" fill="none" stroke="#c8283c" stroke-width="0.9"/><ellipse cx="314.7" cy="354.5" rx="2.4" ry="1.9" transform="rotate(2 314.7 354.5)" fill="none" stroke="#c8283c" stroke-width="0.9"/><ellipse cx="314.1" cy="346.4" rx="2.2" ry="2.5" transform="rotate(108 314.1 346.4)" fill="none" stroke="#c8283c" stroke-width="0.9"/><ellipse cx="321.3" cy="342.5" rx="3.0" ry="2.4" transform="rotate(78 321.3 342.5)" fill="none" stroke="#26387c" stroke-width="0.9"/><ellipse cx="318.4" cy="350.3" rx="3.4" ry="2.6" transform="rotate(179 318.4 350.3)" fill="none" stroke="#26387c" stroke-width="0.9"/><ellipse cx="322.6" cy="344.4" rx="2.2" ry="2.5" transform="rotate(94 322.6 344.4)" fill="none" stroke="#26387c" stroke-width="0.9"/><ellipse cx="321.2" cy="350.9" rx="3.3" ry="1.8" transform="rotate(159 321.2 350.9)" fill="none" stroke="#26387c" stroke-width="0.9"/><ellipse cx="316.8" cy="347.5" rx="2.5" ry="2.6" transform="rotate(171 316.8 347.5)" fill="none" stroke="#26387c" stroke-width="0.9"/><ellipse cx="322.1" cy="348.6" rx="2.1" ry="2.5" transform="rotate(21 322.1 348.6)" fill="none" stroke="#26387c" stroke-width="0.9"/><ellipse cx="321.4" cy="353.2" rx="2.1" ry="2.6" transform="rotate(17 321.4 353.2)" fill="none" stroke="#2a5f4c" stroke-width="0.9"/><ellipse cx="319.9" cy="351.6" rx="3.1" ry="2.0" transform="rotate(8 319.9 351.6)" fill="none" stroke="#2a5f4c" stroke-width="0.9"/><ellipse cx="318.0" cy="352.4" rx="2.8" ry="1.6" transform="rotate(4 318.0 352.4)" fill="none" stroke="#2a5f4c" stroke-width="0.9"/><ellipse cx="323.1" cy="354.4" rx="2.2" ry="2.0" transform="rotate(23 323.1 354.4)" fill="none" stroke="#2a5f4c" stroke-width="0.9"/><line x1="322.8" y1="351" x2="329.3" y2="351" stroke="#24463c" stroke-width="0.6"/><path d="M303.10,305.00 L303.30,348.00 L307.60,368.20 L312.39,387.00 C313.67,393.32 314.06,400.32 316.8,400.32 C319.54,400.32 319.93,393.32 321.21,387.00 L326.00,368.20 L330.30,348.00 L330.50,305.00 Z" fill="none" stroke="#fff" stroke-width="0.7" opacity="0.75"/><path d="M304.2,305.0 L329.40000000000003,305.0 L328.20000000000005,311.6 L305.4,311.6 Z" fill="#d3dce0" stroke="#9aaab2" stroke-width="0.6"/><line x1="322.3" y1="315.0" x2="328.3" y2="315.0" stroke="#b4bfc5" stroke-width="0.7"/><rect x="297.1" y="298.6" width="38.0" height="6.4" rx="2" fill="#eff3f5" stroke="#8d9ea6" stroke-width="0.9"/><line x1="299.0" y1="301.928" x2="334.1" y2="301.928" stroke="#b9c4ca" stroke-width="0.7"/><ellipse cx="296.0" cy="302.44" rx="2.5" ry="2.3" fill="#eff3f5" stroke="#8d9ea6" stroke-width="0.9"/>
<path d="M388.50,305.00 L388.70,347.70 L393.00,367.90 L397.90,386.70 C399.40,393.90 399.90,400.90 403.3,400.90 C406.70,400.90 407.20,393.90 408.70,386.70 L413.60,367.90 L417.90,347.70 L418.10,305.00 Z" fill="#e4ecef" stroke="#84959d" stroke-width="1"/><clipPath id="tc13"><path d="M390.20,305.00 L390.40,347.70 L394.70,367.90 L399.43,386.70 C400.59,392.54 400.92,399.54 403.3,399.54 C405.68,399.54 406.01,392.54 407.17,386.70 L411.90,367.90 L416.20,347.70 L416.40,305.00 Z"/></clipPath><g clip-path="url(#tc13)"><rect x="383.3" y="332.8" width="40" height="73.09999999999997" fill="#fbd3d1"/><path d="M391.8,332.8 L414.8,332.8 L414.6,348 L410.5,368.2 L405.90000000000003,387 L404.1,396.9 L402.5,396.9 L400.7,387 L396.1,368.2 L392.0,348 Z" fill="#f7b3b1"/></g><circle cx="402.7" cy="337" r="2.9" fill="#f9c22e"/><path d="M397,346.3 C397.6,343.3 398.6,339.7 400.3,339.6 C402.2,339.6 403.4,345.40000000000003 405.6,345.5 C407.4,345.5 408,342.7 408.8,340.3" fill="none" stroke="#a8283c" stroke-width="1.35" stroke-linecap="round"/><circle cx="409" cy="339.8" r="1.8" fill="#a8283c"/><path d="M397,358.1 C397.6,355.1 398.6,351.5 400.3,351.40000000000003 C402.2,351.40000000000003 403.4,357.20000000000005 405.6,357.3 C407.4,357.3 408,354.5 408.8,352.1" fill="none" stroke="#2a7fd0" stroke-width="1.35" stroke-linecap="round"/><circle cx="409" cy="351.6" r="1.8" fill="#2a7fd0"/><path d="M397,369.7 C397.6,366.7 398.6,363.09999999999997 400.3,363.0 C402.2,363.0 403.4,368.8 405.6,368.9 C407.4,368.9 408,366.09999999999997 408.8,363.7" fill="none" stroke="#1b2f7c" stroke-width="1.35" stroke-linecap="round"/><circle cx="409" cy="363.2" r="1.8" fill="#1b2f7c"/><circle cx="-99" cy="-99" r="2.9" fill="#f9c22e"/><path d="M389.60,305.00 L389.80,347.70 L394.10,367.90 L398.89,386.70 C400.17,393.02 400.56,400.02 403.3,400.02 C406.04,400.02 406.43,393.02 407.71,386.70 L412.50,367.90 L416.80,347.70 L417.00,305.00 Z" fill="none" stroke="#fff" stroke-width="0.7" opacity="0.75"/><path d="M390.7,305.0 L415.90000000000003,305.0 L414.70000000000005,311.6 L391.9,311.6 Z" fill="#d3dce0" stroke="#9aaab2" stroke-width="0.6"/><line x1="408.8" y1="315.0" x2="414.8" y2="315.0" stroke="#b4bfc5" stroke-width="0.7"/><rect x="383.6" y="298.6" width="38.0" height="6.4" rx="2" fill="#eff3f5" stroke="#8d9ea6" stroke-width="0.9"/><line x1="385.5" y1="301.928" x2="420.6" y2="301.928" stroke="#b9c4ca" stroke-width="0.7"/><ellipse cx="382.5" cy="302.44" rx="2.5" ry="2.3" fill="#eff3f5" stroke="#8d9ea6" stroke-width="0.9"/>
<path d="M430.90,305.00 L431.10,347.70 L435.40,367.90 L440.30,386.70 C441.80,393.90 442.30,400.90 445.7,400.90 C449.10,400.90 449.60,393.90 451.10,386.70 L456.00,367.90 L460.30,347.70 L460.50,305.00 Z" fill="#e4ecef" stroke="#84959d" stroke-width="1"/><clipPath id="tc14"><path d="M432.60,305.00 L432.80,347.70 L437.10,367.90 L441.83,386.70 C442.99,392.54 443.32,399.54 445.7,399.54 C448.08,399.54 448.41,392.54 449.57,386.70 L454.30,367.90 L458.60,347.70 L458.80,305.00 Z"/></clipPath><g clip-path="url(#tc14)"><rect x="425.7" y="332.8" width="40" height="73.09999999999997" fill="#c0a8d8"/><path d="M434.2,332.8 L457.2,332.8 L457.0,348 L452.9,368.2 L448.3,387 L446.5,396.9 L444.9,396.9 L443.09999999999997,387 L438.5,368.2 L434.4,348 Z" fill="#a98bc8"/></g><path d="M439.8,344.4 C440.40000000000003,341.4 441.40000000000003,337.79999999999995 443.1,337.7 C445.0,337.7 446.2,343.5 448.40000000000003,343.59999999999997 C450.2,343.59999999999997 450.8,340.79999999999995 451.6,338.4" fill="none" stroke="#a8283c" stroke-width="1.35" stroke-linecap="round"/><circle cx="451.8" cy="337.9" r="1.8" fill="#a8283c"/><path d="M439.8,354.8 C440.40000000000003,351.8 441.40000000000003,348.2 443.1,348.1 C445.0,348.1 446.2,353.90000000000003 448.40000000000003,354.0 C450.2,354.0 450.8,351.2 451.6,348.8" fill="none" stroke="#2a7fd0" stroke-width="1.35" stroke-linecap="round"/><circle cx="451.8" cy="348.3" r="1.8" fill="#2a7fd0"/><path d="M439.8,365.8 C440.40000000000003,362.8 441.40000000000003,359.2 443.1,359.1 C445.0,359.1 446.2,364.90000000000003 448.40000000000003,365.0 C450.2,365.0 450.8,362.2 451.6,359.8" fill="none" stroke="#1b2f7c" stroke-width="1.35" stroke-linecap="round"/><circle cx="451.8" cy="359.3" r="1.8" fill="#1b2f7c"/><circle cx="443" cy="345.3" r="2.9" fill="#f9c22e"/><path d="M432.00,305.00 L432.20,347.70 L436.50,367.90 L441.29,386.70 C442.57,393.02 442.96,400.02 445.7,400.02 C448.44,400.02 448.83,393.02 450.11,386.70 L454.90,367.90 L459.20,347.70 L459.40,305.00 Z" fill="none" stroke="#fff" stroke-width="0.7" opacity="0.75"/><path d="M433.09999999999997,305.0 L458.3,305.0 L457.1,311.6 L434.29999999999995,311.6 Z" fill="#d3dce0" stroke="#9aaab2" stroke-width="0.6"/><line x1="451.2" y1="315.0" x2="457.2" y2="315.0" stroke="#b4bfc5" stroke-width="0.7"/><rect x="426.0" y="298.6" width="38.0" height="6.4" rx="2" fill="#eff3f5" stroke="#8d9ea6" stroke-width="0.9"/><line x1="427.9" y1="301.928" x2="463.0" y2="301.928" stroke="#b9c4ca" stroke-width="0.7"/><ellipse cx="424.9" cy="302.44" rx="2.5" ry="2.3" fill="#eff3f5" stroke="#8d9ea6" stroke-width="0.9"/>
<path d="M473.50,305.00 L473.70,347.70 L478.00,367.90 L482.90,386.70 C484.40,393.90 484.90,400.90 488.3,400.90 C491.70,400.90 492.20,393.90 493.70,386.70 L498.60,367.90 L502.90,347.70 L503.10,305.00 Z" fill="#e4ecef" stroke="#84959d" stroke-width="1"/><clipPath id="tc15"><path d="M475.20,305.00 L475.40,347.70 L479.70,367.90 L484.43,386.70 C485.59,392.54 485.92,399.54 488.3,399.54 C490.68,399.54 491.01,392.54 492.17,386.70 L496.90,367.90 L501.20,347.70 L501.40,305.00 Z"/></clipPath><g clip-path="url(#tc15)"><rect x="468.3" y="332.8" width="40" height="73.09999999999997" fill="#6fb384"/><path d="M476.8,332.8 L499.8,332.8 L499.6,348 L495.5,368.2 L490.90000000000003,387 L489.1,396.9 L487.5,396.9 L485.7,387 L481.1,368.2 L477.0,348 Z" fill="#4a9a62"/></g><path d="M481.9,345.8 C482.5,342.8 483.5,339.2 485.2,339.1 C487.09999999999997,339.1 488.29999999999995,344.90000000000003 490.5,345.0 C492.29999999999995,345.0 492.9,342.2 493.7,339.8" fill="none" stroke="#a8283c" stroke-width="1.35" stroke-linecap="round"/><circle cx="493.9" cy="339.3" r="1.8" fill="#a8283c"/><path d="M481.9,357.1 C482.5,354.1 483.5,350.5 485.2,350.40000000000003 C487.09999999999997,350.40000000000003 488.29999999999995,356.20000000000005 490.5,356.3 C492.29999999999995,356.3 492.9,353.5 493.7,351.1" fill="none" stroke="#2a7fd0" stroke-width="1.35" stroke-linecap="round"/><circle cx="493.9" cy="350.6" r="1.8" fill="#2a7fd0"/><path d="M481.9,369.1 C482.5,366.1 483.5,362.5 485.2,362.40000000000003 C487.09999999999997,362.40000000000003 488.29999999999995,368.20000000000005 490.5,368.3 C492.29999999999995,368.3 492.9,365.5 493.7,363.1" fill="none" stroke="#1b2f7c" stroke-width="1.35" stroke-linecap="round"/><circle cx="493.9" cy="362.6" r="1.8" fill="#1b2f7c"/><circle cx="489.4" cy="373.7" r="2.9" fill="#f9c22e"/><path d="M474.60,305.00 L474.80,347.70 L479.10,367.90 L483.89,386.70 C485.17,393.02 485.56,400.02 488.3,400.02 C491.04,400.02 491.43,393.02 492.71,386.70 L497.50,367.90 L501.80,347.70 L502.00,305.00 Z" fill="none" stroke="#fff" stroke-width="0.7" opacity="0.75"/><path d="M475.7,305.0 L500.90000000000003,305.0 L499.70000000000005,311.6 L476.9,311.6 Z" fill="#d3dce0" stroke="#9aaab2" stroke-width="0.6"/><line x1="493.8" y1="315.0" x2="499.8" y2="315.0" stroke="#b4bfc5" stroke-width="0.7"/><rect x="468.6" y="298.6" width="38.0" height="6.4" rx="2" fill="#eff3f5" stroke="#8d9ea6" stroke-width="0.9"/><line x1="470.5" y1="301.928" x2="505.6" y2="301.928" stroke="#b9c4ca" stroke-width="0.7"/><ellipse cx="467.5" cy="302.44" rx="2.5" ry="2.3" fill="#eff3f5" stroke="#8d9ea6" stroke-width="0.9"/>
<path d="M561.00,308.80 L561.19,349.40 L565.32,369.60 L570.02,388.40 C571.46,395.60 571.94,402.60 575.2,402.60 C578.46,402.60 578.94,395.60 580.38,388.40 L585.08,369.60 L589.21,349.40 L589.40,308.80 Z" fill="#e4ecef" stroke="#84959d" stroke-width="1"/><clipPath id="tc16"><path d="M562.70,308.80 L562.89,349.40 L567.02,369.60 L571.55,388.40 C572.65,394.24 572.96,401.24 575.2,401.24 C577.44,401.24 577.75,394.24 578.85,388.40 L583.38,369.60 L587.51,349.40 L587.70,308.80 Z"/></clipPath><g clip-path="url(#tc16)"><rect x="555.2" y="335.1" width="40" height="72.5" fill="#a98bc8"/><path d="M555.2,335.1 L570.6,335.1 L571.2,365.1 L573.2,402.6 L555.2,402.6 Z" fill="#f7b3b1"/><path d="M562.7,335.1 L564.2,335.1 L564.4000000000001,348 L572.7,394.6 L571.2,394.6 L562.7,350 Z" fill="#fde0df"/><path d="M595.2,335.1 L579.7,335.1 L580.2,365.1 L577.2,402.6 L595.2,402.6 Z" fill="#4a9a62"/><circle cx="565.8" cy="339.7" r="1.4" fill="#f9c22e"/><path d="M572.0,339.9 q1.5,-3 3,0 t2.6,0.5" fill="none" stroke="#1b2f7c" stroke-width="0.6" opacity="0.85"/><circle cx="572.0" cy="339.9" r="1.4" fill="#f9c22e"/><circle cx="578.4" cy="337.9" r="1.4" fill="#f9c22e"/><path d="M582.6,340.7 q1.5,-3 3,0 t2.6,0.5" fill="none" stroke="#2a7fd0" stroke-width="0.6" opacity="0.85"/><circle cx="582.6" cy="340.7" r="1.4" fill="#f9c22e"/><path d="M573.6,344.9 q1.5,-3 3,0 t2.6,0.5" fill="none" stroke="#a8283c" stroke-width="0.6" opacity="0.85"/><circle cx="573.6" cy="344.9" r="1.4" fill="#f9c22e"/><circle cx="579.0" cy="344.9" r="1.4" fill="#f9c22e"/><path d="M584.3,343.7 q1.5,-3 3,0 t2.6,0.5" fill="none" stroke="#1b2f7c" stroke-width="0.6" opacity="0.85"/><circle cx="584.3" cy="343.7" r="1.4" fill="#f9c22e"/><circle cx="567.3" cy="351.8" r="1.4" fill="#f9c22e"/><circle cx="578.4" cy="348.9" r="1.4" fill="#f9c22e"/><path d="M584.1,350.8 q1.5,-3 3,0 t2.6,0.5" fill="none" stroke="#a8283c" stroke-width="0.6" opacity="0.85"/><circle cx="584.1" cy="350.8" r="1.4" fill="#f9c22e"/><circle cx="567.4" cy="354.3" r="1.4" fill="#f9c22e"/><path d="M573.7,355.9 q1.5,-3 3,0 t2.6,0.5" fill="none" stroke="#1b2f7c" stroke-width="0.6" opacity="0.85"/><circle cx="573.7" cy="355.9" r="1.4" fill="#f9c22e"/><path d="M583.0,357.5 q1.5,-3 3,0 t2.6,0.5" fill="none" stroke="#2a7fd0" stroke-width="0.6" opacity="0.85"/><circle cx="583.0" cy="357.5" r="1.4" fill="#f9c22e"/><circle cx="569.3" cy="362.6" r="1.4" fill="#f9c22e"/><path d="M575.1,363.1 q1.5,-3 3,0 t2.6,0.5" fill="none" stroke="#a8283c" stroke-width="0.6" opacity="0.85"/><circle cx="575.1" cy="363.1" r="1.4" fill="#f9c22e"/><circle cx="581.8" cy="360.1" r="1.4" fill="#f9c22e"/><circle cx="576.4" cy="366.8" r="1.4" fill="#f9c22e"/><path d="M580.3,366.3 q1.5,-3 3,0 t2.6,0.5" fill="none" stroke="#2a7fd0" stroke-width="0.6" opacity="0.85"/><circle cx="580.3" cy="366.3" r="1.4" fill="#f9c22e"/><circle cx="572.3" cy="372.1" r="1.4" fill="#f9c22e"/><path d="M577.7,372.8 q1.5,-3 3,0 t2.6,0.5" fill="none" stroke="#a8283c" stroke-width="0.6" opacity="0.85"/><circle cx="577.7" cy="372.8" r="1.4" fill="#f9c22e"/><path d="M577.9,379.5 q1.5,-3 3,0 t2.6,0.5" fill="none" stroke="#1b2f7c" stroke-width="0.6" opacity="0.85"/><circle cx="577.9" cy="379.5" r="1.4" fill="#f9c22e"/><circle cx="576.1" cy="385.8" r="1.4" fill="#f9c22e"/><path d="M575.6,388.8 q1.5,-3 3,0 t2.6,0.5" fill="none" stroke="#2a7fd0" stroke-width="0.6" opacity="0.85"/><circle cx="575.6" cy="388.8" r="1.4" fill="#f9c22e"/></g><path d="M562.10,308.80 L562.29,349.40 L566.42,369.60 L571.01,388.40 C572.23,394.72 572.60,401.72 575.2,401.72 C577.80,401.72 578.17,394.72 579.39,388.40 L583.98,369.60 L588.11,349.40 L588.30,308.80 Z" fill="none" stroke="#fff" stroke-width="0.7" opacity="0.75"/><path d="M563.2,308.79999999999995 L587.2,308.79999999999995 L586.0000000000001,315.4 L564.4,315.4 Z" fill="#d3dce0" stroke="#9aaab2" stroke-width="0.6"/><line x1="580.7" y1="318.79999999999995" x2="586.7" y2="318.79999999999995" stroke="#b4bfc5" stroke-width="0.7"/><rect x="556.1" y="301.4" width="36.8" height="7.4" rx="2" fill="#eff3f5" stroke="#8d9ea6" stroke-width="0.9"/><line x1="558.0" y1="305.248" x2="591.9000000000001" y2="305.248" stroke="#b9c4ca" stroke-width="0.7"/><ellipse cx="555.0" cy="305.84" rx="2.5" ry="2.3" fill="#eff3f5" stroke="#8d9ea6" stroke-width="0.9"/>
<path d="M611.4,315.5 C611.6,314.7 611.9,312.6 612.6,311.6 C613.3,310.6 613.9,310.0 615,310.4 C616.1,310.8 616.8,312.5 618,313.6 C619.2,314.7 620.1,315.9 621.2,315.8 C622.3,315.7 622.9,314.4 623.6,313 C624.3,311.6 624.6,309.5 624.9,308.6 " fill="none" stroke="#a8283c" stroke-width="1.3" stroke-linecap="round"/><circle cx="611" cy="316.7" r="1.9" fill="#a8283c"/><path d="M607.7,328.9 C608.3,328.4 609.4,327.0 610.5,326.4 C611.6,325.8 612.4,325.3 613.2,325.9 C614.0,326.5 614.2,327.9 614.6,329.5 C615.0,331.1 614.7,332.6 615.3,333.8 C615.9,335.0 616.5,335.4 617.6,335.6 C618.7,335.8 620.3,335.1 621,335 " fill="none" stroke="#2a7fd0" stroke-width="1.3" stroke-linecap="round"/><circle cx="622.1" cy="334.4" r="1.9" fill="#2a7fd0"/><path d="M629.8,328 C629.9,328.6 629.5,330.3 630.2,331.2 C630.9,332.1 632.1,332.1 633.5,332.4 C634.9,332.7 636.6,331.9 637.3,332.6 C638.0,333.3 637.6,334.5 637.2,336 C636.8,337.5 635.7,339.4 635.3,340.2 " fill="none" stroke="#ef9a5a" stroke-width="1.1" stroke-linecap="round"/><circle cx="629.3" cy="326.7" r="1.8" fill="#ef9a5a"/><g stroke="#2f62b5" stroke-width="1.6" fill="none" stroke-linecap="butt"><path d="M643.1,316.7 L649.4,308.0"/><path d="M644.9,318.1 L651.2,309.4"/><path d="M644.3,317.2 L632.3,318.9"/><path d="M639.0,315.5 L632.0,316.4"/><path d="M644.1,317.1 L645.9,328.7"/><path d="M647.2,321.5 L648.4,328.3"/></g><circle cx="638" cy="325.6" r="4" fill="#f9c22e"/><path d="M622.3,348.9 C621.2,348.6 619.2,347.8 617,347.3 C614.8,346.8 612.7,346.1 611.5,346.4 C610.3,346.7 610.6,347.6 610.8,349 C611.0,350.4 612.1,351.7 612.6,353.5 C613.1,355.3 612.4,356.5 613.2,357.8 C614.0,359.1 616.1,359.7 616.8,360.2 " fill="none" stroke="#2a7fd0" stroke-width="1.3" stroke-linecap="round"/><circle cx="618.2" cy="360.6" r="1.9" fill="#2a7fd0"/><g stroke="#2f62b5" stroke-width="1.6" fill="none" stroke-linecap="butt"><path d="M632.3,345.8 L644.2,340.8"/><path d="M633.1,348.0 L645.0,343.0"/><path d="M633.1,346.9 L624.1,340.2"/><path d="M630.8,342.2 L625.6,338.2"/><path d="M633.0,346.7 L629.6,356.9"/><path d="M633.8,351.6 L632.0,357.6"/></g><circle cx="626" cy="348.9" r="4" fill="#f9c22e"/><path d="M601,364.6 C601.5,364.0 602.4,362.6 603.5,361.8 C604.6,361.0 605.6,360.0 606.6,360.4 C607.6,360.8 607.9,362.4 608.5,364 C609.1,365.6 608.8,367.5 609.6,368.6 C610.4,369.7 611.3,369.5 612.5,369.3 C613.7,369.1 615.0,368.1 615.6,367.8 " fill="none" stroke="#1b2f7c" stroke-width="1.3" stroke-linecap="round"/><circle cx="616.6" cy="367.2" r="1.9" fill="#1b2f7c"/><path d="M642.1,353.9 C642.8,354.3 644.7,354.9 645.8,356 C646.9,357.1 648.2,358.0 647.8,359.2 C647.4,360.4 646.0,361.1 644,362 C642.0,362.9 639.5,362.8 638,363.6 C636.5,364.4 636.2,365.0 636.6,366.2 C637.0,367.4 639.3,368.8 640,369.4 " fill="none" stroke="#1b2f7c" stroke-width="1.3" stroke-linecap="round"/><circle cx="641" cy="370" r="1.9" fill="#1b2f7c"/><path d="M622.6,368 C623.2,367.7 624.4,366.5 625.5,366.3 C626.6,366.1 627.6,365.9 628.3,366.8 C629.0,367.7 628.8,369.2 629,371 C629.2,372.8 628.8,374.8 629.4,375.6 C630.0,376.4 631.0,375.7 632.2,375.2 C633.4,374.7 634.9,373.6 635.6,373.2 " fill="none" stroke="#a8283c" stroke-width="1.3" stroke-linecap="round"/><circle cx="622.1" cy="368.3" r="1.9" fill="#a8283c"/><line x1="626" y1="376.5" x2="629.5" y2="375.5" stroke="#e8a33a" stroke-width="0.9"/><g stroke="#2f62b5" stroke-width="1.6" fill="none" stroke-linecap="butt"><path d="M621.2,386.3 L614.3,397.6"/><path d="M619.2,385.1 L612.3,396.4"/><path d="M620.2,386.1 L613.7,376.9"/><path d="M615.6,383.7 L611.7,378.4"/><path d="M619.9,385.9 L630.2,385.1"/><path d="M624.3,388.0 L630.3,387.6"/></g><circle cx="622.7" cy="377.8" r="4" fill="#f9c22e"/><path d="M648.4,377.5 C648.9,378.0 650.4,378.9 650.8,380 C651.2,381.1 651.7,382.0 650.6,382.8 C649.5,383.6 647.5,383.4 645.5,384 C643.5,384.6 641.6,384.6 640.6,385.6 C639.6,386.6 640.1,387.5 640.6,388.8 C641.1,390.1 642.8,391.6 643.3,392.3 " fill="none" stroke="#a8283c" stroke-width="1.3" stroke-linecap="round"/><circle cx="648.2" cy="376.7" r="1.9" fill="#a8283c"/>
<path d="M721.6,301.5 L721.6,392.8 L829.8,392.8" fill="none" stroke="#111" stroke-width="1.4"/>
<text transform="translate(716.6,367.6) rotate(-90)" font-size="9.3" font-weight="bold" fill="#222" textLength="39.5" lengthAdjust="spacingAndGlyphs">Intensity</text>
<text x="785" y="408.3" font-size="9.3" text-anchor="middle" font-weight="bold" font-style="italic" fill="#222" >m/z</text>
<path d="M731.1999999999999,392.2 L731.1999999999999,392.2 C731.6999999999999,380.9 731.9,361.2 733.9,359.8 C735.9,361.2 736.1,380.9 736.6,392.2 L736.5999999999999,392.2 C737.0999999999999,374.6 737.3,343.2 739.3,341.9 C741.3,343.2 741.5,374.6 742.0,392.2 L742.0999999999999,392.2 C742.5999999999999,382.7 742.8,366.4 744.8,365 C746.8,366.4 747.0,382.7 747.5,392.2 L747.6999999999999,392.2 C748.1999999999999,388.5 748.4,382.6 750.4,381.7 C752.4,382.6 752.6,388.5 753.1,392.2 " fill="#f0eef8" stroke="#8a80c2" stroke-width="1.1" stroke-linejoin="round"/>
<path d="M783.1,392.2 L783.1,392.2 C783.6,386.0 783.8000000000001,376.0 785.7,374.6 C787.6,376.0 787.8000000000001,386.0 788.3000000000001,392.2 L788.3,392.2 C788.8,380.2 789.0,359.4 790.9,358 C792.8,359.4 793.0,380.2 793.5,392.2 L793.3,392.2 C793.8,371.3 794.0,333.8 795.9,332.4 C797.8,333.8 798.0,371.3 798.5,392.2 L798.1,392.2 C798.6,362.1 798.8000000000001,307.5 800.7,306.1 C802.6,307.5 802.8000000000001,362.1 803.3000000000001,392.2 L803.3,392.2 C803.8,371.3 804.0,333.8 805.9,332.4 C807.8,333.8 808.0,371.3 808.5,392.2 L808.5,392.2 C809.0,380.1 809.2,359.0 811.1,357.6 C813.0,359.0 813.2,380.1 813.7,392.2 L813.3,392.2 C813.8,385.9 814.0,375.5 815.9,374.1 C817.8,375.5 818.0,385.9 818.5,392.2 " fill="#eaf6ef" stroke="#6fb893" stroke-width="1.1" stroke-linejoin="round"/>
<path d="M751.2,415.4 L759.6,419.8 L763.8,411.4 L778.7,419 L774.5,427.4 L782.9,431.6 L762.3,433.5 Z" fill="#0a0a0a"/>
<path d="M920,301.5 L945.2,314 L945.2,389.5 L920,399 Z" fill="#737373"/><path d="M884,303.5 L920,301.5 L920,399 L884,397 Z" fill="#a8a8a8"/><path d="M884,303.5 L887.8,303.3 L887.8,397.2 L884,397 Z" fill="#d4d4d4"/><path d="M888.5,306.5 L916,305 L916,320.5 L888.5,321.5 Z" fill="#5c5c5c"/><path d="M888.5,323.5 L916,322.8 L916,326.5 L888.5,327.2 Z" fill="#7b7b7b"/><path d="M888.5,330.8 L916,330.2 L916,334.5 L888.5,335 Z" fill="#6a6a6a"/><path d="M888.5,338.8 L916,338 L916,341.5 L888.5,341.8 Z" fill="#b4b4b4"/><path d="M888.5,340 L898,339.8" stroke="#555" stroke-width="1"/><circle cx="901.5" cy="339.8" r="0.9" fill="#444"/><circle cx="906" cy="339.7" r="0.9" fill="#444"/><path d="M910.5,337.8 L910.5,341.5 M914,337.6 L914,341.5" stroke="#444" stroke-width="1"/><path d="M886,371.5 L913.5,370.5 L920,399 L884,397 Z" fill="#7c7c7c"/><path d="M913.5,370.5 L920,367 L920,399 Z" fill="#8e8e8e"/><circle cx="900.2" cy="380.4" r="4.6" fill="#c9c9c9" stroke="#e6e6e6" stroke-width="0.9"/><circle cx="900.2" cy="380.4" r="2.6" fill="#aaa" stroke="#ddd" stroke-width="0.6"/><rect x="973.2" y="381" width="7.2" height="14" fill="#4d4d4d"/><path d="M966,394.2 L986,394.2 L990.4,400.3 L961,400.3 Z" fill="#4d4d4d"/><path d="M961,399.2 L990.4,399.2 L990.4,400.5 L961,400.5 Z" fill="#3a3a3a"/><rect x="933.7" y="325.5" width="88" height="56.8" rx="2.8" fill="#3d3d3d"/><clipPath id="scr"><rect x="937" y="329.2" width="81.4" height="48.6" rx="1"/></clipPath><rect x="937" y="329.2" width="81.4" height="48.6" rx="1" fill="#fff"/><g clip-path="url(#scr)"><path d="M936,328 L1010,328 C998,352 968,368 936,375 Z" fill="#e5e1e1"/><path d="M1019,362 C1010,370 1000,375 988,378.5 L1019,378.5 Z" fill="#e5e1e1"/></g>
<path d="M936.4,414 L952.6,414 L952.6,424 L962,424 L944.3,434.6 L926.8,424 L936.4,424 Z" fill="#0a0a0a"/>
<path d="M107.6,412.6 L125,424.3 L116.6,424.3 L116.6,433.9 L99.4,433.9 L99.4,424.3 L90.6,424.3 Z" fill="#0a0a0a"/>
</g>
<g id="panelB2">
<line x1="22" y1="470.1" x2="194" y2="470.1" stroke="#111" stroke-width="1.25"/>
<ellipse cx="31.9" cy="470.1" rx="4.8" ry="6.7" fill="#fbe08a"/>
<ellipse cx="50.7" cy="470.1" rx="4.6" ry="6.7" fill="#8faadc"/>
<rect x="72.7" y="463" width="34.1" height="13.8" rx="1.6" fill="#595959"/>
<rect x="115.6" y="463" width="34.2" height="13.8" rx="1.6" fill="#a9d18e"/>
<path d="M165.0,463 L172.6,463 L175.4,469.9 L172.6,476.8 L165.0,476.8 L162.2,469.9 Z" fill="#f4b183"/>
<path d="M183.70000000000002,463 L191.7,463 L194.5,469.9 L191.7,476.8 L183.70000000000002,476.8 L180.9,469.9 Z" fill="#4472c4"/>
<text x="19.2" y="459.8" font-size="11.6" fill="#111" textLength="22.6" lengthAdjust="spacingAndGlyphs">NLS</text>
<text x="46.1" y="459.8" font-size="11.6" fill="#111" textLength="23.5" lengthAdjust="spacingAndGlyphs">NES</text>
<text x="79.7" y="459.8" font-size="11.6" fill="#111" textLength="22.7" lengthAdjust="spacingAndGlyphs">CD1</text>
<text x="120.6" y="459.8" font-size="11.6" fill="#111" textLength="23" lengthAdjust="spacingAndGlyphs">CD2</text>
<text x="150.2" y="459.8" font-size="11.6" fill="#111" textLength="28.5" lengthAdjust="spacingAndGlyphs">SE14</text>
<text x="181.3" y="459.8" font-size="11.6" fill="#111" textLength="23.2" lengthAdjust="spacingAndGlyphs">BUZ</text>
<line x1="127.3" y1="483" x2="127.3" y2="493" stroke="#111" stroke-width="1.8"/><path d="M127.3,478.2 L130.9,485 L123.7,485 Z" fill="#111"/>
<text x="132.5" y="504.2" font-size="11.8" text-anchor="middle" font-weight="normal" font-style="normal" fill="#111" >H651A</text>
<text x="100.8" y="520" font-size="11.8" text-anchor="middle" font-weight="normal" font-style="normal" fill="#111" >WT</text>
<text x="134" y="520" font-size="11.8" text-anchor="middle" font-weight="normal" font-style="normal" fill="#111" >Mut</text>
<text x="169.8" y="520" font-size="11.8" text-anchor="middle" font-weight="normal" font-style="normal" fill="#111" >KO</text>
<text x="190.2" y="522.2" font-size="9" fill="#222" textLength="38.5" lengthAdjust="spacingAndGlyphs">MW(Kda)</text>
<text x="34.3" y="539.2" font-size="12.2" text-anchor="start" font-weight="normal" font-style="normal" fill="#111" textLength="41.2" lengthAdjust="spacingAndGlyphs">HDAC6</text>
<text x="9.6" y="574.6" font-size="12.2" text-anchor="start" font-weight="normal" font-style="normal" fill="#111" textLength="68.1" lengthAdjust="spacingAndGlyphs">Ac-α-Tubulin</text>
<text x="32" y="618.8" font-size="12.2" text-anchor="start" font-weight="normal" font-style="normal" fill="#111" textLength="43.6" lengthAdjust="spacingAndGlyphs">α-Tubulin</text>
<text x="191.6" y="538.8" font-size="8.5" fill="#222" textLength="11" lengthAdjust="spacingAndGlyphs">130</text><line x1="190.79999999999998" y1="541.0" x2="203.4" y2="541.0" stroke="#222" stroke-width="0.95"/>
<text x="192.2" y="577.6" font-size="8.5" fill="#222" textLength="9.3" lengthAdjust="spacingAndGlyphs">55</text><line x1="191.39999999999998" y1="579.8000000000001" x2="202.3" y2="579.8000000000001" stroke="#222" stroke-width="0.95"/>
<text x="192.2" y="617.4" font-size="8.5" fill="#222" textLength="9.3" lengthAdjust="spacingAndGlyphs">55</text><line x1="191.39999999999998" y1="619.6" x2="202.3" y2="619.6" stroke="#222" stroke-width="0.95"/>
<clipPath id="bc17"><rect x="83.4" y="522.1" width="104.0" height="29.799999999999955"/></clipPath><rect x="83.4" y="522.1" width="104.0" height="29.799999999999955" fill="#e4e4e4"/><g clip-path="url(#bc17)"><ellipse cx="103.5" cy="543" rx="12" ry="3.5" fill="#999" opacity="0.45" filter="url(#b1)"/><ellipse cx="132.5" cy="543" rx="12" ry="3" fill="#999" opacity="0.35" filter="url(#b1)"/><rect x="91.4" y="531.3" width="24.19999999999999" height="8.0" rx="4.0" ry="4.0" fill="#2a2a2a" opacity="0.92" filter="url(#b1)"/><rect x="120.5" y="532.4" width="24.80000000000001" height="6.899999999999977" rx="3.4499999999999886" ry="3.4499999999999886" fill="#333" opacity="0.9" filter="url(#b1)"/></g><rect x="83.4" y="522.1" width="104.0" height="29.799999999999955" fill="none" stroke="#0a0a0a" stroke-width="1.3"/>
<clipPath id="bc18"><rect x="83.4" y="554.1" width="104.0" height="39.60000000000002"/></clipPath><rect x="83.4" y="554.1" width="104.0" height="39.60000000000002" fill="#d9d9d9"/><g clip-path="url(#bc18)"><rect x="88" y="568" width="27.400000000000006" height="5" rx="2.5" ry="2.5" fill="#777" opacity="0.7" filter="url(#b1)"/><rect x="117" y="578.5" width="32" height="6.7999999999999545" rx="3.3999999999999773" ry="3.3999999999999773" fill="#444" opacity="0.85" filter="url(#b1)"/><rect x="154" y="578" width="32" height="10.600000000000023" rx="5.300000000000011" ry="5.300000000000011" fill="#3a3a3a" opacity="0.9" filter="url(#b1)"/><rect x="115" y="563.3" width="38.5" height="15.0" rx="7.5" ry="7.5" fill="#0a0a0a" opacity="1" filter="url(#b1)"/><rect x="151.5" y="564.8" width="36.5" height="19.200000000000045" rx="8" ry="8" fill="#0a0a0a" opacity="1" filter="url(#b1)"/></g><rect x="83.4" y="554.1" width="104.0" height="39.60000000000002" fill="none" stroke="#0a0a0a" stroke-width="1.3"/>
<clipPath id="bc19"><rect x="83.4" y="596" width="104.0" height="40.39999999999998"/></clipPath><rect x="83.4" y="596" width="104.0" height="40.39999999999998" fill="#e1e1e1"/><g clip-path="url(#bc19)"><rect x="86.9" y="610.1" width="29.89999999999999" height="8.600000000000023" rx="4.300000000000011" ry="4.300000000000011" fill="#0a0a0a" opacity="1" filter="url(#b1)"/><rect x="120.5" y="610.7" width="31.69999999999999" height="8.699999999999932" rx="4.349999999999966" ry="4.349999999999966" fill="#0a0a0a" opacity="1" filter="url(#b1)"/><rect x="156.4" y="609.7" width="28.900000000000006" height="8.5" rx="4.25" ry="4.25" fill="#0a0a0a" opacity="1" filter="url(#b1)"/></g><rect x="83.4" y="596" width="104.0" height="40.39999999999998" fill="none" stroke="#0a0a0a" stroke-width="1.3"/>
<path d="M277.7,462.8 L277.7,649.5 M273.7,649.5 L802,649.5" stroke="#111" stroke-width="1.6" fill="none"/>
<line x1="274.3" y1="649.5" x2="277.7" y2="649.5" stroke="#111" stroke-width="1"/>
<text x="271.8" y="653.2" font-size="10.4" text-anchor="end" font-weight="normal" font-style="normal" fill="#222" >0</text>
<line x1="274.3" y1="614.1" x2="277.7" y2="614.1" stroke="#111" stroke-width="1"/>
<text x="271.8" y="617.84" font-size="10.4" text-anchor="end" font-weight="normal" font-style="normal" fill="#222" >20</text>
<line x1="274.3" y1="578.8" x2="277.7" y2="578.8" stroke="#111" stroke-width="1"/>
<text x="271.8" y="582.48" font-size="10.4" text-anchor="end" font-weight="normal" font-style="normal" fill="#222" >40</text>
<line x1="274.3" y1="543.4" x2="277.7" y2="543.4" stroke="#111" stroke-width="1"/>
<text x="271.8" y="547.12" font-size="10.4" text-anchor="end" font-weight="normal" font-style="normal" fill="#222" >60</text>
<line x1="274.3" y1="508.1" x2="277.7" y2="508.1" stroke="#111" stroke-width="1"/>
<text x="271.8" y="511.76" font-size="10.4" text-anchor="end" font-weight="normal" font-style="normal" fill="#222" >80</text>
<line x1="274.3" y1="472.7" x2="277.7" y2="472.7" stroke="#111" stroke-width="1"/>
<text x="271.8" y="476.4" font-size="10.4" text-anchor="end" font-weight="normal" font-style="normal" fill="#222" >100</text>
<line x1="326.2" y1="649.5" x2="326.2" y2="653.0" stroke="#111" stroke-width="1"/>
<text x="326.2" y="665" font-size="10.3" text-anchor="middle" font-weight="normal" font-style="normal" fill="#222" >200</text>
<line x1="401.3" y1="649.5" x2="401.3" y2="653.0" stroke="#111" stroke-width="1"/>
<text x="401.3" y="665" font-size="10.3" text-anchor="middle" font-weight="normal" font-style="normal" fill="#222" >400</text>
<line x1="476.4" y1="649.5" x2="476.4" y2="653.0" stroke="#111" stroke-width="1"/>
<text x="476.4" y="665" font-size="10.3" text-anchor="middle" font-weight="normal" font-style="normal" fill="#222" >600</text>
<line x1="551.5" y1="649.5" x2="551.5" y2="653.0" stroke="#111" stroke-width="1"/>
<text x="551.5" y="665" font-size="10.3" text-anchor="middle" font-weight="normal" font-style="normal" fill="#222" >800</text>
<line x1="626.6" y1="649.5" x2="626.6" y2="653.0" stroke="#111" stroke-width="1"/>
<text x="626.6" y="665" font-size="10.3" text-anchor="middle" font-weight="normal" font-style="normal" fill="#222" >1000</text>
<line x1="701.7" y1="649.5" x2="701.7" y2="653.0" stroke="#111" stroke-width="1"/>
<text x="701.7" y="665" font-size="10.3" text-anchor="middle" font-weight="normal" font-style="normal" fill="#222" >1200</text>
<line x1="776.8" y1="649.5" x2="776.8" y2="653.0" stroke="#111" stroke-width="1"/>
<text x="776.8" y="665" font-size="10.3" text-anchor="middle" font-weight="normal" font-style="normal" fill="#222" >1400</text>
<text x="540.3" y="677" font-size="10.8" text-anchor="middle" font-weight="normal" font-style="normal" fill="#222" >m/z</text>
<text transform="translate(250.3,611.5) rotate(-90)" font-size="11.6" fill="#222" textLength="115.5" lengthAdjust="spacingAndGlyphs">Relative intensity (%)</text>
<path d="M298.6,649.5 L298.6,598.2 M299.0,649.5 L299.0,593.8 M299.4,649.5 L299.4,603.5 M299.8,649.5 L299.8,619.4 M300.3,649.5 L300.3,623.0 M302.2,649.5 L302.2,624.7 M303.7,649.5 L303.7,645.1 M305.2,649.5 L305.2,646.0 M310.4,649.5 L310.4,634.1 M311.2,649.5 L311.2,646.0 M316.8,649.5 L316.8,611.8 M316.1,649.5 L316.1,643.3 M320.9,649.5 L320.9,638.9 M321.7,649.5 L321.7,635.4 M322.4,649.5 L322.4,646.0 M326.6,649.5 L326.6,646.0 M334.5,649.5 L334.5,640.7 M337.3,649.5 L337.3,472.7 M337.8,649.5 L337.8,644.2 M342.0,649.5 L342.0,646.0 M344.1,649.5 L344.1,631.8 M344.6,649.5 L344.6,644.2 M347.2,649.5 L347.2,646.0 M357.0,649.5 L357.0,643.1 M357.7,649.5 L357.7,645.1 M360.7,649.5 L360.7,639.8 M363.8,649.5 L363.8,641.5 M364.3,649.5 L364.3,646.0 M369.1,649.5 L369.1,591.9 M369.8,649.5 L369.8,642.4 M370.5,649.5 L370.5,646.0 M379.8,649.5 L379.8,558.3 M380.5,649.5 L380.5,642.4 M382.5,649.5 L382.5,643.3 M384.4,649.5 L384.4,644.2 M388.5,649.5 L388.5,646.0 M390.0,649.5 L390.0,642.4 M391.9,649.5 L391.9,644.2 M393.4,649.5 L393.4,645.1 M396.3,649.5 L396.3,631.8 M399.8,649.5 L399.8,644.2 M401.3,649.5 L401.3,646.8 M406.7,649.5 L406.7,638.9 M407.3,649.5 L407.3,646.8 M411.8,649.5 L411.8,644.2 M413.3,649.5 L413.3,646.0 M416.8,649.5 L416.8,613.3 M417.4,649.5 L417.4,644.2 M419.7,649.5 L419.7,646.0 M427.6,649.5 L427.6,646.8 M432.5,649.5 L432.5,646.3 M434.0,649.5 L434.0,645.6 M438.9,649.5 L438.9,642.4 M440.0,649.5 L440.0,646.0 M443.4,649.5 L443.4,646.0 M446.4,649.5 L446.4,646.8 M449.9,649.5 L449.9,636.2 M458.8,649.5 L458.8,646.0 M459.9,649.5 L459.9,647.4 M466.3,649.5 L466.3,647.4 M479.8,649.5 L479.8,643.3 M480.5,649.5 L480.5,647.4 M484.7,649.5 L484.7,647.2 M487.7,649.5 L487.7,641.5 M491.4,649.5 L491.4,646.8 M498.2,649.5 L498.2,625.6 M498.9,649.5 L498.9,645.1 M504.8,649.5 L504.8,615.0 M505.5,649.5 L505.5,644.2 M512.3,649.5 L512.3,638.9 M514.0,649.5 L514.0,646.8 M519.6,649.5 L519.6,647.4 M526.0,649.5 L526.0,647.7 M532.7,649.5 L532.7,647.4 M538.7,649.5 L538.7,634.5 M539.5,649.5 L539.5,646.8 M544.0,649.5 L544.0,647.7 M551.5,649.5 L551.5,642.1 M554.5,649.5 L554.5,645.1 M562.4,649.5 L562.4,603.5 M563.1,649.5 L563.1,644.2 M568.4,649.5 L568.4,647.2 M575.9,649.5 L575.9,647.4 M581.9,649.5 L581.9,637.1 M582.7,649.5 L582.7,647.2 M594.7,649.5 L594.7,646.0 M605.1,649.5 L605.1,628.3 M605.9,649.5 L605.9,646.0 M611.6,649.5 L611.6,647.7 M621.0,649.5 L621.0,647.7 M631.5,649.5 L631.5,638.0 M632.2,649.5 L632.2,647.4 M645.4,649.5 L645.4,631.8 M646.1,649.5 L646.1,646.8 M657.4,649.5 L657.4,639.8 M658.1,649.5 L658.1,647.7 M664.8,649.5 L664.8,644.2 M675.4,649.5 L675.4,647.7 M682.9,649.5 L682.9,648.1 M693.8,649.5 L693.8,643.3 M694.6,649.5 L694.6,648.1 M701.7,649.5 L701.7,648.1 M719.7,649.5 L719.7,647.7 M721.2,649.5 L721.2,647.4 M726.5,649.5 L726.5,626.5 M727.2,649.5 L727.2,646.0 M754.3,649.5 L754.3,648.1 M758.0,649.5 L758.0,647.7 M764.0,649.5 L764.0,627.4 M764.8,649.5 L764.8,646.8 M766.3,649.5 L766.3,648.1 " stroke="#2a2a2a" stroke-width="0.9" fill="none"/>
<path d="M510.2,649.5 L510.2,646.3 M516.5,649.5 L516.5,648.4 M383.5,649.5 L383.5,648.3 M671.3,649.5 L671.3,649.1 M339.1,649.5 L339.1,648.0 M316.0,649.5 L316.0,645.4 M370.7,649.5 L370.7,648.6 M324.3,649.5 L324.3,649.2 M310.4,649.5 L310.4,648.8 M427.8,649.5 L427.8,644.9 M445.3,649.5 L445.3,649.1 M329.4,649.5 L329.4,648.9 M296.4,649.5 L296.4,646.5 M518.5,649.5 L518.5,648.9 M330.7,649.5 L330.7,647.6 M423.8,649.5 L423.8,649.0 M352.0,649.5 L352.0,649.4 M324.5,649.5 L324.5,649.3 M386.4,649.5 L386.4,649.3 M600.7,649.5 L600.7,648.8 M396.9,649.5 L396.9,645.1 M714.8,649.5 L714.8,648.9 M343.6,649.5 L343.6,649.2 M418.4,649.5 L418.4,649.0 M436.4,649.5 L436.4,649.4 M510.6,649.5 L510.6,648.7 M382.7,649.5 L382.7,646.5 M386.0,649.5 L386.0,646.0 M389.2,649.5 L389.2,646.9 M345.3,649.5 L345.3,645.4 M409.0,649.5 L409.0,649.1 M435.0,649.5 L435.0,647.9 M328.7,649.5 L328.7,648.5 M428.7,649.5 L428.7,649.2 M304.0,649.5 L304.0,648.8 M324.8,649.5 L324.8,648.9 M566.9,649.5 L566.9,648.9 M572.7,649.5 L572.7,649.5 M304.6,649.5 L304.6,648.0 M751.7,649.5 L751.7,648.2 M447.0,649.5 L447.0,649.4 M477.1,649.5 L477.1,648.3 M334.1,649.5 L334.1,644.9 M479.9,649.5 L479.9,648.4 M504.6,649.5 L504.6,649.4 M651.1,649.5 L651.1,648.4 M417.2,649.5 L417.2,649.1 M617.0,649.5 L617.0,649.3 M505.3,649.5 L505.3,649.0 M611.2,649.5 L611.2,648.8 M360.6,649.5 L360.6,647.3 M376.2,649.5 L376.2,649.1 M397.4,649.5 L397.4,648.3 M510.2,649.5 L510.2,649.5 M709.1,649.5 L709.1,648.0 M670.6,649.5 L670.6,649.3 M511.4,649.5 L511.4,647.3 M408.5,649.5 L408.5,649.4 M620.0,649.5 L620.0,648.7 M380.7,649.5 L380.7,648.7 M634.1,649.5 L634.1,649.1 M459.7,649.5 L459.7,648.6 M482.3,649.5 L482.3,646.6 M337.4,649.5 L337.4,647.9 M357.6,649.5 L357.6,648.3 M515.6,649.5 L515.6,649.2 M397.1,649.5 L397.1,644.9 M461.0,649.5 L461.0,648.8 M526.8,649.5 L526.8,647.5 M326.5,649.5 L326.5,649.3 M454.7,649.5 L454.7,649.3 M366.5,649.5 L366.5,647.9 M745.2,649.5 L745.2,649.2 M476.5,649.5 L476.5,646.6 M394.7,649.5 L394.7,645.2 M391.2,649.5 L391.2,648.6 M582.5,649.5 L582.5,645.2 M327.3,649.5 L327.3,648.8 M423.5,649.5 L423.5,649.3 M501.3,649.5 L501.3,646.6 M386.7,649.5 L386.7,646.3 M357.4,649.5 L357.4,649.5 M388.0,649.5 L388.0,648.1 M448.5,649.5 L448.5,648.3 M345.8,649.5 L345.8,649.3 M389.7,649.5 L389.7,648.8 M473.9,649.5 L473.9,648.6 M371.7,649.5 L371.7,648.3 M445.2,649.5 L445.2,649.2 M359.5,649.5 L359.5,647.9 M418.9,649.5 L418.9,647.3 M495.6,649.5 L495.6,649.3 M486.7,649.5 L486.7,649.5 M391.2,649.5 L391.2,646.5 M754.3,649.5 L754.3,648.6 M620.6,649.5 L620.6,649.4 M346.4,649.5 L346.4,648.5 M365.5,649.5 L365.5,649.2 M734.7,649.5 L734.7,649.4 M517.1,649.5 L517.1,648.8 M580.5,649.5 L580.5,648.0 M695.6,649.5 L695.6,648.8 M388.5,649.5 L388.5,648.6 M303.5,649.5 L303.5,647.5 M418.4,649.5 L418.4,647.8 M488.1,649.5 L488.1,646.9 M638.1,649.5 L638.1,649.0 M518.0,649.5 L518.0,649.0 M406.0,649.5 L406.0,648.1 M456.0,649.5 L456.0,648.5 M759.9,649.5 L759.9,648.3 M486.1,649.5 L486.1,649.2 M473.9,649.5 L473.9,649.1 M332.2,649.5 L332.2,647.7 M317.5,649.5 L317.5,649.3 M519.4,649.5 L519.4,648.7 M585.3,649.5 L585.3,645.9 M495.2,649.5 L495.2,648.4 M469.1,649.5 L469.1,648.2 M302.8,649.5 L302.8,649.4 M370.2,649.5 L370.2,648.9 M319.9,649.5 L319.9,645.9 M330.9,649.5 L330.9,648.8 M411.5,649.5 L411.5,646.1 M581.8,649.5 L581.8,648.3 M511.8,649.5 L511.8,649.4 M546.0,649.5 L546.0,648.8 M420.2,649.5 L420.2,648.8 M350.0,649.5 L350.0,647.6 M424.6,649.5 L424.6,648.5 M652.6,649.5 L652.6,649.1 M711.9,649.5 L711.9,649.4 M424.3,649.5 L424.3,648.3 M344.6,649.5 L344.6,649.4 M337.1,649.5 L337.1,648.5 M522.6,649.5 L522.6,649.0 M331.3,649.5 L331.3,647.4 M397.0,649.5 L397.0,649.1 M450.1,649.5 L450.1,647.8 M470.9,649.5 L470.9,646.9 M333.3,649.5 L333.3,648.5 M437.6,649.5 L437.6,649.4 M397.1,649.5 L397.1,649.4 M439.9,649.5 L439.9,648.0 M430.0,649.5 L430.0,649.0 M351.7,649.5 L351.7,648.5 M446.4,649.5 L446.4,646.1 M467.3,649.5 L467.3,648.9 M483.3,649.5 L483.3,649.2 M562.4,649.5 L562.4,647.7 M306.7,649.5 L306.7,648.5 M326.5,649.5 L326.5,647.6 M335.9,649.5 L335.9,647.8 M721.5,649.5 L721.5,648.3 M364.2,649.5 L364.2,648.2 M412.3,649.5 L412.3,647.7 M482.8,649.5 L482.8,645.2 M490.4,649.5 L490.4,648.1 M495.1,649.5 L495.1,647.8 M375.5,649.5 L375.5,648.8 M434.3,649.5 L434.3,649.4 M442.1,649.5 L442.1,648.2 M663.3,649.5 L663.3,649.4 M513.2,649.5 L513.2,646.5 M313.4,649.5 L313.4,649.2 M399.0,649.5 L399.0,647.9 M383.7,649.5 L383.7,649.3 M458.0,649.5 L458.0,645.6 M319.7,649.5 L319.7,647.5 M478.3,649.5 L478.3,648.6 M426.1,649.5 L426.1,648.2 M408.6,649.5 L408.6,648.7 M472.0,649.5 L472.0,648.0 M582.9,649.5 L582.9,649.3 M448.4,649.5 L448.4,647.0 M549.1,649.5 L549.1,647.7 M296.8,649.5 L296.8,647.2 M685.1,649.5 L685.1,649.1 M635.2,649.5 L635.2,648.7 M517.9,649.5 L517.9,648.4 M729.9,649.5 L729.9,647.3 M394.8,649.5 L394.8,648.6 M370.7,649.5 L370.7,649.0 M443.2,649.5 L443.2,649.0 " stroke="#333" stroke-width="0.8" fill="none"/>
<path d="M298.4,649.5 L298.4,621.2 L299.0,593.8 L299.7,619.4 L300.1,649.5 Z" fill="#111"/>
<text x="318.0" y="606.3" font-size="10.2" font-style="italic" fill="#222" text-anchor="middle">y<tspan font-size="5.9" dy="2.4">1</tspan></text>
<text x="378.9" y="546.8" font-size="10.2" font-style="italic" fill="#222" text-anchor="middle">b<tspan font-size="5.9" dy="2.4">1</tspan></text>
<text x="416.8" y="607.8" font-size="10.2" font-style="italic" fill="#222" text-anchor="middle">b<tspan font-size="5.9" dy="2.4">2</tspan></text>
<text x="450.4" y="631.2" font-size="10.2" font-style="italic" fill="#222" text-anchor="middle">b<tspan font-size="5.9" dy="2.4">3</tspan></text>
<text x="479.8" y="637.8" font-size="10.2" font-style="italic" fill="#222" text-anchor="middle">y<tspan font-size="5.9" dy="2.4">5</tspan></text>
<text x="498.2" y="620.6" font-size="10.2" font-style="italic" fill="#222" text-anchor="middle">b<tspan font-size="5.9" dy="2.4">4</tspan></text>
<text x="510.8" y="633.4" font-size="10.2" font-style="italic" fill="#222" text-anchor="middle">y<tspan font-size="5.9" dy="2.4">6</tspan></text>
<text x="538.2" y="629.0" font-size="10.2" font-style="italic" fill="#222" text-anchor="middle">y<tspan font-size="5.9" dy="2.4">7</tspan></text>
<text x="562.9" y="598.0" font-size="10.2" font-style="italic" fill="#222" text-anchor="middle">b<tspan font-size="5.9" dy="2.4">5</tspan></text>
<text x="581.4" y="631.6" font-size="10.2" font-style="italic" fill="#222" text-anchor="middle">y<tspan font-size="5.9" dy="2.4">8</tspan></text>
<text x="605.6" y="623.3" font-size="10.2" font-style="italic" fill="#222" text-anchor="middle">b<tspan font-size="5.9" dy="2.4">6</tspan></text>
<text x="630.0" y="633.0" font-size="10.2" font-style="italic" fill="#222" text-anchor="middle">b<tspan font-size="5.9" dy="2.4">7</tspan></text>
<text x="644.9" y="626.3" font-size="10.2" font-style="italic" fill="#222" text-anchor="middle">y<tspan font-size="5.9" dy="2.4">9</tspan></text>
<text x="665.3" y="638.7" font-size="10.2" font-style="italic" fill="#222" text-anchor="middle">b<tspan font-size="5.9" dy="2.4">8</tspan></text>
<text x="694.8" y="637.8" font-size="10.2" font-style="italic" fill="#222" text-anchor="middle">y<tspan font-size="5.9" dy="2.4">10</tspan></text>
<text x="727.0" y="621.0" font-size="10.2" font-style="italic" fill="#222" text-anchor="middle">y<tspan font-size="5.9" dy="2.4">11</tspan></text>
<text x="764.5" y="621.9" font-size="10.2" font-style="italic" fill="#222" text-anchor="middle">y<tspan font-size="5.9" dy="2.4">12</tspan></text>
<text x="330.3" y="624.3" font-size="10.2" font-style="italic" fill="#222" text-anchor="middle">y<tspan font-size="5.9" dy="2.4">2</tspan></text>
<text x="357.3" y="629.2" font-size="10.2" font-style="italic" fill="#222" text-anchor="middle">y<tspan font-size="5.9" dy="2.4">3</tspan></text>
<line x1="332.5" y1="629.5" x2="344.2" y2="643" stroke="#111" stroke-width="1.1"/>
<line x1="360.5" y1="632.7" x2="365.3" y2="639.8" stroke="#111" stroke-width="1.1"/>
<text x="467.9" y="497.9" font-size="10.1" text-anchor="start" font-weight="normal" font-style="normal" fill="#222" textLength="34.3" lengthAdjust="spacingAndGlyphs">L[+229]</text>
<text x="566.4" y="497.9" font-size="10.1" text-anchor="start" font-weight="normal" font-style="normal" fill="#222" textLength="30.6" lengthAdjust="spacingAndGlyphs">K[+42]</text>
<text x="518.4" y="497.9" font-size="10.1" text-anchor="middle" font-weight="normal" font-style="normal" fill="#222" >V</text>
<text x="535.9" y="497.9" font-size="10.1" text-anchor="middle" font-weight="normal" font-style="normal" fill="#222" >S</text>
<text x="553" y="497.9" font-size="10.1" text-anchor="middle" font-weight="normal" font-style="normal" fill="#222" >E</text>
<text x="611.3" y="497.9" font-size="10.1" text-anchor="middle" font-weight="normal" font-style="normal" fill="#222" >L</text>
<text x="632.1" y="497.9" font-size="10.1" text-anchor="middle" font-weight="normal" font-style="normal" fill="#222" >A</text>
<text x="649.3" y="497.9" font-size="10.1" text-anchor="middle" font-weight="normal" font-style="normal" fill="#222" >S</text>
<text x="667.9" y="497.9" font-size="10.1" text-anchor="middle" font-weight="normal" font-style="normal" fill="#222" >Y</text>
<text x="687.9" y="497.9" font-size="10.1" text-anchor="middle" font-weight="normal" font-style="normal" fill="#222" >Q</text>
<text x="705.9" y="497.9" font-size="10.1" text-anchor="middle" font-weight="normal" font-style="normal" fill="#222" >A</text>
<text x="723.6" y="497.9" font-size="10.1" text-anchor="middle" font-weight="normal" font-style="normal" fill="#222" >A</text>
<text x="737.9" y="497.9" font-size="10.1" text-anchor="middle" font-weight="normal" font-style="normal" fill="#222" >R</text>
<path d="M495.9,482.1 L507.9,482.1 L507.9,505 L519.4,505 M513.9,482.1 L525.9,482.1 L525.9,505 L537.4,505 M531.6,482.1 L543.6,482.1 L543.6,505 L555.1,505 M549.3,482.1 L561.3,482.1 L561.3,505 L572.8,505 M591.6,482.1 L603.6,482.1 L603.6,505 L615.1,505 M610.1,482.1 L622.1,482.1 L622.1,505 L633.6,505 M628.7,482.1 L640.7,482.1 L640.7,505 L652.2,505 M646.4,482.1 L658.4,482.1 L658.4,505 L669.9,505 M664.4,482.1 L676.4,482.1 L676.4,505 L687.9,505 M682.4,482.1 L694.4,482.1 L694.4,505 L705.9,505 M700.1,482.1 L712.1,482.1 L712.1,505 L723.6,505 M718.7,482.1 L730.7,482.1 L730.7,505 L742.2,505 " fill="none" stroke="#1a1a1a" stroke-width="1.15"/>
<text x="499.8" y="475.4" font-size="10.4" font-style="italic" fill="#222" text-anchor="middle">b<tspan font-size="6.0" dy="2.4">1</tspan></text>
<text x="517.8" y="475.4" font-size="10.4" font-style="italic" fill="#222" text-anchor="middle">b<tspan font-size="6.0" dy="2.4">2</tspan></text>
<text x="535.5" y="475.4" font-size="10.4" font-style="italic" fill="#222" text-anchor="middle">b<tspan font-size="6.0" dy="2.4">3</tspan></text>
<text x="554.1" y="475.4" font-size="10.4" font-style="italic" fill="#222" text-anchor="middle">b<tspan font-size="6.0" dy="2.4">4</tspan></text>
<text x="595.5" y="475.4" font-size="10.4" font-style="italic" fill="#222" text-anchor="middle">b<tspan font-size="6.0" dy="2.4">5</tspan></text>
<text x="614.1" y="475.4" font-size="10.4" font-style="italic" fill="#222" text-anchor="middle">b<tspan font-size="6.0" dy="2.4">6</tspan></text>
<text x="632.1" y="475.4" font-size="10.4" font-style="italic" fill="#222" text-anchor="middle">b<tspan font-size="6.0" dy="2.4">7</tspan></text>
<text x="650.6" y="475.4" font-size="10.4" font-style="italic" fill="#222" text-anchor="middle">b<tspan font-size="6.0" dy="2.4">8</tspan></text>
<text x="511.2" y="516.4" font-size="10.4" font-style="italic" fill="#222" text-anchor="middle">y<tspan font-size="6.0" dy="2.4">12</tspan></text>
<text x="530.4" y="516.4" font-size="10.4" font-style="italic" fill="#222" text-anchor="middle">y<tspan font-size="6.0" dy="2.4">11</tspan></text>
<text x="548.4" y="516.4" font-size="10.4" font-style="italic" fill="#222" text-anchor="middle">y<tspan font-size="6.0" dy="2.4">10</tspan></text>
<text x="565.5" y="516.4" font-size="10.4" font-style="italic" fill="#222" text-anchor="middle">y<tspan font-size="6.0" dy="2.4">9</tspan></text>
<text x="608.4" y="516.4" font-size="10.4" font-style="italic" fill="#222" text-anchor="middle">y<tspan font-size="6.0" dy="2.4">8</tspan></text>
<text x="626.9" y="516.4" font-size="10.4" font-style="italic" fill="#222" text-anchor="middle">y<tspan font-size="6.0" dy="2.4">7</tspan></text>
<text x="645.5" y="516.4" font-size="10.4" font-style="italic" fill="#222" text-anchor="middle">y<tspan font-size="6.0" dy="2.4">6</tspan></text>
<text x="663.5" y="516.4" font-size="10.4" font-style="italic" fill="#222" text-anchor="middle">y<tspan font-size="6.0" dy="2.4">5</tspan></text>
<text x="681.2" y="516.4" font-size="10.4" font-style="italic" fill="#222" text-anchor="middle">y<tspan font-size="6.0" dy="2.4">4</tspan></text>
<text x="700.6" y="516.4" font-size="10.4" font-style="italic" fill="#222" text-anchor="middle">y<tspan font-size="6.0" dy="2.4">3</tspan></text>
<text x="718.9" y="516.4" font-size="10.4" font-style="italic" fill="#222" text-anchor="middle">y<tspan font-size="6.0" dy="2.4">2</tspan></text>
<text x="736.9" y="516.4" font-size="10.4" font-style="italic" fill="#222" text-anchor="middle">y<tspan font-size="6.0" dy="2.4">1</tspan></text>
<rect x="838.6" y="455" width="200.8" height="200" fill="#fff" stroke="#0a0a0a" stroke-width="1.9"/>
<line x1="847.9" y1="655" x2="847.9" y2="658.3" stroke="#111" stroke-width="1.1"/>
<text x="847.9" y="668.4" font-size="9.7" text-anchor="middle" font-weight="bold" font-style="normal" fill="#222" >0</text>
<line x1="908.7" y1="655" x2="908.7" y2="658.3" stroke="#111" stroke-width="1.1"/>
<text x="908.7" y="668.4" font-size="9.7" text-anchor="middle" font-weight="bold" font-style="normal" fill="#222" >1</text>
<line x1="969.5" y1="655" x2="969.5" y2="658.3" stroke="#111" stroke-width="1.1"/>
<text x="969.5" y="668.4" font-size="9.7" text-anchor="middle" font-weight="bold" font-style="normal" fill="#222" >2</text>
<line x1="1030.3" y1="655" x2="1030.3" y2="658.3" stroke="#111" stroke-width="1.1"/>
<text x="1030.3" y="668.4" font-size="9.7" text-anchor="middle" font-weight="bold" font-style="normal" fill="#222" >3</text>
<line x1="835.3" y1="646.2" x2="838.6" y2="646.2" stroke="#111" stroke-width="1.1"/>
<text x="834.6" y="649.6" font-size="9.7" text-anchor="end" font-weight="bold" font-style="normal" fill="#222" >0</text>
<line x1="835.3" y1="609.4" x2="838.6" y2="609.4" stroke="#111" stroke-width="1.1"/>
<text x="834.6" y="612.8" font-size="9.7" text-anchor="end" font-weight="bold" font-style="normal" fill="#222" >2</text>
<line x1="835.3" y1="572.7" x2="838.6" y2="572.7" stroke="#111" stroke-width="1.1"/>
<text x="834.6" y="576.1" font-size="9.7" text-anchor="end" font-weight="bold" font-style="normal" fill="#222" >4</text>
<line x1="835.3" y1="535.9" x2="838.6" y2="535.9" stroke="#111" stroke-width="1.1"/>
<text x="834.6" y="539.3" font-size="9.7" text-anchor="end" font-weight="bold" font-style="normal" fill="#222" >6</text>
<line x1="835.3" y1="499.2" x2="838.6" y2="499.2" stroke="#111" stroke-width="1.1"/>
<text x="834.6" y="502.6" font-size="9.7" text-anchor="end" font-weight="bold" font-style="normal" fill="#222" >8</text>
<line x1="835.3" y1="462.4" x2="838.6" y2="462.4" stroke="#111" stroke-width="1.1"/>
<text x="834.6" y="465.8" font-size="9.7" text-anchor="end" font-weight="bold" font-style="normal" fill="#222" >10</text>
<text x="940" y="680.2" font-size="10.8" text-anchor="middle" font-weight="bold" font-style="normal" fill="#222" textLength="176.4" lengthAdjust="spacingAndGlyphs">Combined Log2 (Fold Change)</text>
<text transform="translate(820.4,624.3) rotate(-90)" font-size="10.8" font-weight="bold" fill="#222" textLength="160.5" lengthAdjust="spacingAndGlyphs">Combined −Log10 (P−value)</text>
<circle cx="863.7" cy="629.9" r="1.6" fill="#bdbdbd"/><circle cx="860.5" cy="626.4" r="1.6" fill="#bdbdbd"/><circle cx="863.6" cy="624.2" r="1.6" fill="#bdbdbd"/><circle cx="867.4" cy="625.8" r="1.6" fill="#bdbdbd"/><circle cx="851.3" cy="647.1" r="1.6" fill="#bdbdbd"/><circle cx="880.1" cy="597.8" r="1.6" fill="#bdbdbd"/><circle cx="866.4" cy="634.6" r="1.6" fill="#bdbdbd"/><circle cx="847.4" cy="647.0" r="1.6" fill="#bdbdbd"/><circle cx="867.9" cy="617.1" r="1.6" fill="#bdbdbd"/><circle cx="879.8" cy="611.0" r="1.6" fill="#bdbdbd"/><circle cx="864.3" cy="614.1" r="1.6" fill="#bdbdbd"/><circle cx="871.5" cy="608.9" r="1.6" fill="#bdbdbd"/><circle cx="854.9" cy="639.0" r="1.6" fill="#bdbdbd"/><circle cx="868.8" cy="624.2" r="1.6" fill="#bdbdbd"/><circle cx="877.9" cy="613.4" r="1.6" fill="#bdbdbd"/><circle cx="878.5" cy="596.6" r="1.6" fill="#bdbdbd"/><circle cx="854.4" cy="627.9" r="1.6" fill="#bdbdbd"/><circle cx="864.8" cy="625.1" r="1.6" fill="#bdbdbd"/><circle cx="855.6" cy="645.2" r="1.6" fill="#bdbdbd"/><circle cx="877.3" cy="596.6" r="1.6" fill="#bdbdbd"/><circle cx="866.6" cy="612.9" r="1.6" fill="#bdbdbd"/><circle cx="856.6" cy="637.0" r="1.6" fill="#bdbdbd"/><circle cx="881.6" cy="608.4" r="1.6" fill="#bdbdbd"/><circle cx="879.1" cy="597.1" r="1.6" fill="#bdbdbd"/><circle cx="869.8" cy="606.7" r="1.6" fill="#bdbdbd"/><circle cx="873.5" cy="622.5" r="1.6" fill="#bdbdbd"/><circle cx="878.4" cy="603.9" r="1.6" fill="#bdbdbd"/><circle cx="862.9" cy="626.1" r="1.6" fill="#bdbdbd"/><circle cx="872.2" cy="607.8" r="1.6" fill="#bdbdbd"/><circle cx="869.4" cy="631.7" r="1.6" fill="#bdbdbd"/><circle cx="867.4" cy="631.9" r="1.6" fill="#bdbdbd"/><circle cx="856.7" cy="631.5" r="1.6" fill="#bdbdbd"/><circle cx="861.0" cy="640.0" r="1.6" fill="#bdbdbd"/><circle cx="877.0" cy="595.1" r="1.6" fill="#bdbdbd"/><circle cx="850.7" cy="647.1" r="1.6" fill="#bdbdbd"/><circle cx="861.8" cy="626.2" r="1.6" fill="#bdbdbd"/><circle cx="858.1" cy="636.5" r="1.6" fill="#bdbdbd"/><circle cx="875.4" cy="617.3" r="1.6" fill="#bdbdbd"/><circle cx="865.8" cy="624.7" r="1.6" fill="#bdbdbd"/><circle cx="870.1" cy="620.6" r="1.6" fill="#bdbdbd"/><circle cx="857.9" cy="621.7" r="1.6" fill="#bdbdbd"/><circle cx="870.4" cy="626.2" r="1.6" fill="#bdbdbd"/><circle cx="852.3" cy="647.1" r="1.6" fill="#bdbdbd"/><circle cx="861.3" cy="632.1" r="1.6" fill="#bdbdbd"/><circle cx="847.7" cy="643.9" r="1.6" fill="#bdbdbd"/><circle cx="863.7" cy="630.1" r="1.6" fill="#bdbdbd"/><circle cx="856.8" cy="635.4" r="1.6" fill="#bdbdbd"/><circle cx="871.9" cy="611.7" r="1.6" fill="#bdbdbd"/><circle cx="870.8" cy="618.8" r="1.6" fill="#bdbdbd"/><circle cx="870.0" cy="615.0" r="1.6" fill="#bdbdbd"/><circle cx="858.4" cy="643.2" r="1.6" fill="#bdbdbd"/><circle cx="853.0" cy="647.1" r="1.6" fill="#bdbdbd"/><circle cx="873.4" cy="614.9" r="1.6" fill="#bdbdbd"/><circle cx="867.3" cy="621.1" r="1.6" fill="#bdbdbd"/><circle cx="873.9" cy="607.5" r="1.6" fill="#bdbdbd"/><circle cx="872.5" cy="615.7" r="1.6" fill="#bdbdbd"/><circle cx="867.9" cy="625.8" r="1.6" fill="#bdbdbd"/><circle cx="860.7" cy="623.6" r="1.6" fill="#bdbdbd"/><circle cx="866.2" cy="637.2" r="1.6" fill="#bdbdbd"/><circle cx="863.1" cy="626.6" r="1.6" fill="#bdbdbd"/><circle cx="850.6" cy="632.9" r="1.6" fill="#bdbdbd"/><circle cx="860.2" cy="623.2" r="1.6" fill="#bdbdbd"/><circle cx="872.5" cy="597.0" r="1.6" fill="#bdbdbd"/><circle cx="863.2" cy="633.3" r="1.6" fill="#bdbdbd"/><circle cx="879.2" cy="620.2" r="1.6" fill="#bdbdbd"/><circle cx="865.8" cy="636.2" r="1.6" fill="#bdbdbd"/><circle cx="873.8" cy="604.8" r="1.6" fill="#bdbdbd"/><circle cx="870.1" cy="632.1" r="1.6" fill="#bdbdbd"/><circle cx="862.3" cy="625.2" r="1.6" fill="#bdbdbd"/><circle cx="872.5" cy="606.7" r="1.6" fill="#bdbdbd"/><circle cx="880.6" cy="606.2" r="1.6" fill="#bdbdbd"/><circle cx="867.5" cy="604.3" r="1.6" fill="#bdbdbd"/><circle cx="874.0" cy="610.3" r="1.6" fill="#bdbdbd"/><circle cx="879.5" cy="602.7" r="1.6" fill="#bdbdbd"/><circle cx="862.6" cy="624.1" r="1.6" fill="#bdbdbd"/><circle cx="852.3" cy="634.0" r="1.6" fill="#bdbdbd"/><circle cx="856.4" cy="622.8" r="1.6" fill="#bdbdbd"/><circle cx="874.6" cy="601.4" r="1.6" fill="#bdbdbd"/><circle cx="857.3" cy="636.3" r="1.6" fill="#bdbdbd"/><circle cx="877.9" cy="622.7" r="1.6" fill="#bdbdbd"/><circle cx="856.6" cy="627.7" r="1.6" fill="#bdbdbd"/><circle cx="877.5" cy="589.7" r="1.6" fill="#bdbdbd"/><circle cx="873.2" cy="622.4" r="1.6" fill="#bdbdbd"/><circle cx="868.8" cy="626.3" r="1.6" fill="#bdbdbd"/><circle cx="856.5" cy="647.1" r="1.6" fill="#bdbdbd"/><circle cx="861.4" cy="626.4" r="1.6" fill="#bdbdbd"/><circle cx="860.7" cy="627.2" r="1.6" fill="#bdbdbd"/><circle cx="857.6" cy="626.9" r="1.6" fill="#bdbdbd"/><circle cx="864.6" cy="611.8" r="1.6" fill="#bdbdbd"/><circle cx="878.5" cy="614.8" r="1.6" fill="#bdbdbd"/><circle cx="855.8" cy="635.5" r="1.6" fill="#bdbdbd"/><circle cx="863.5" cy="626.3" r="1.6" fill="#bdbdbd"/>
<circle cx="1012.1" cy="486.5" r="1.65" fill="#f0141e"/><circle cx="1012.6" cy="529.1" r="1.65" fill="#f0141e"/><circle cx="1006.2" cy="504.1" r="1.65" fill="#f0141e"/><circle cx="1002.4" cy="502.1" r="1.65" fill="#f0141e"/><circle cx="987.6" cy="505.0" r="1.65" fill="#f0141e"/><circle cx="985.6" cy="502.1" r="1.65" fill="#f0141e"/><circle cx="984.1" cy="500.0" r="1.65" fill="#f0141e"/><circle cx="979.7" cy="501.2" r="1.65" fill="#f0141e"/><circle cx="967.1" cy="505.0" r="1.65" fill="#f0141e"/><circle cx="966.5" cy="519.7" r="1.65" fill="#f0141e"/><circle cx="963.5" cy="517.6" r="1.65" fill="#f0141e"/><circle cx="961.2" cy="512.9" r="1.65" fill="#f0141e"/><circle cx="960.0" cy="516.8" r="1.65" fill="#f0141e"/><circle cx="956.2" cy="527.1" r="1.65" fill="#f0141e"/><circle cx="951.8" cy="530.0" r="1.65" fill="#f0141e"/><circle cx="951.2" cy="534.4" r="1.65" fill="#f0141e"/><circle cx="948.2" cy="541.8" r="1.65" fill="#f0141e"/><circle cx="945.3" cy="532.4" r="1.65" fill="#f0141e"/><circle cx="942.9" cy="532.9" r="1.65" fill="#f0141e"/><circle cx="938.5" cy="536.5" r="1.65" fill="#f0141e"/><circle cx="937.1" cy="532.9" r="1.65" fill="#f0141e"/><circle cx="934.7" cy="531.5" r="1.65" fill="#f0141e"/><circle cx="934.1" cy="535.9" r="1.65" fill="#f0141e"/><circle cx="930.6" cy="540.3" r="1.65" fill="#f0141e"/><circle cx="928.8" cy="532.9" r="1.65" fill="#f0141e"/><circle cx="926.8" cy="546.2" r="1.65" fill="#f0141e"/><circle cx="924.4" cy="537.4" r="1.65" fill="#f0141e"/><circle cx="920.9" cy="541.2" r="1.65" fill="#f0141e"/><circle cx="919.4" cy="545.3" r="1.65" fill="#f0141e"/><circle cx="917.9" cy="543.2" r="1.65" fill="#f0141e"/><circle cx="931.2" cy="555.0" r="1.65" fill="#f0141e"/><circle cx="929.7" cy="557.9" r="1.65" fill="#f0141e"/><circle cx="920.9" cy="556.5" r="1.65" fill="#f0141e"/><circle cx="919.4" cy="559.4" r="1.65" fill="#f0141e"/><circle cx="919.4" cy="553.5" r="1.65" fill="#f0141e"/><circle cx="910.0" cy="551.2" r="1.65" fill="#f0141e"/><circle cx="907.6" cy="552.9" r="1.65" fill="#f0141e"/><circle cx="907.1" cy="557.9" r="1.65" fill="#f0141e"/><circle cx="904.7" cy="563.8" r="1.65" fill="#f0141e"/><circle cx="902.6" cy="560.9" r="1.65" fill="#f0141e"/><circle cx="901.8" cy="557.9" r="1.65" fill="#f0141e"/><circle cx="900.6" cy="561.8" r="1.65" fill="#f0141e"/><circle cx="898.8" cy="564.7" r="1.65" fill="#f0141e"/><circle cx="896.8" cy="565.9" r="1.65" fill="#f0141e"/><circle cx="894.4" cy="569.7" r="1.65" fill="#f0141e"/><circle cx="892.9" cy="568.2" r="1.65" fill="#f0141e"/><circle cx="906.2" cy="580.0" r="1.65" fill="#f0141e"/><circle cx="909.1" cy="566.8" r="1.65" fill="#f0141e"/><circle cx="910.6" cy="568.2" r="1.65" fill="#f0141e"/><circle cx="917.1" cy="565.3" r="1.65" fill="#f0141e"/><circle cx="932.6" cy="574.1" r="1.65" fill="#f0141e"/><circle cx="929.7" cy="590.9" r="1.65" fill="#f0141e"/><circle cx="959.1" cy="559.4" r="1.65" fill="#f0141e"/><circle cx="907.6" cy="596.2" r="1.65" fill="#f0141e"/><circle cx="895.3" cy="571.2" r="1.65" fill="#f0141e"/><circle cx="892.9" cy="574.1" r="1.65" fill="#f0141e"/><circle cx="891.5" cy="580.0" r="1.65" fill="#f0141e"/><circle cx="890.0" cy="577.1" r="1.65" fill="#f0141e"/><circle cx="888.5" cy="582.9" r="1.65" fill="#f0141e"/><circle cx="887.1" cy="585.9" r="1.65" fill="#f0141e"/><circle cx="885.6" cy="581.5" r="1.65" fill="#f0141e"/><circle cx="884.1" cy="584.4" r="1.65" fill="#f0141e"/><circle cx="884.7" cy="590.3" r="1.65" fill="#f0141e"/><circle cx="888.5" cy="591.8" r="1.65" fill="#f0141e"/><circle cx="891.5" cy="593.2" r="1.65" fill="#f0141e"/><circle cx="892.4" cy="585.9" r="1.65" fill="#f0141e"/><circle cx="884.1" cy="600.0" r="1.65" fill="#f0141e"/><circle cx="890.9" cy="610.9" r="1.65" fill="#f0141e"/><circle cx="893.8" cy="610.3" r="1.65" fill="#f0141e"/><circle cx="889.4" cy="617.6" r="1.65" fill="#f0141e"/><circle cx="913.5" cy="547.6" r="1.65" fill="#f0141e"/><circle cx="915.9" cy="546.2" r="1.65" fill="#f0141e"/><circle cx="925.9" cy="532.9" r="1.65" fill="#f0141e"/><circle cx="940.6" cy="531.5" r="1.65" fill="#f0141e"/><circle cx="954.7" cy="523.5" r="1.65" fill="#f0141e"/><circle cx="957.6" cy="521.8" r="1.65" fill="#f0141e"/><circle cx="890.6" cy="587.4" r="1.65" fill="#f0141e"/><circle cx="886.5" cy="593.2" r="1.65" fill="#f0141e"/><circle cx="893.5" cy="582.9" r="1.65" fill="#f0141e"/><circle cx="897.4" cy="574.1" r="1.65" fill="#f0141e"/><circle cx="899.4" cy="568.2" r="1.65" fill="#f0141e"/><circle cx="904.1" cy="556.5" r="1.65" fill="#f0141e"/><circle cx="912.1" cy="559.4" r="1.65" fill="#f0141e"/><circle cx="922.4" cy="550.6" r="1.65" fill="#f0141e"/><circle cx="928.2" cy="549.1" r="1.65" fill="#f0141e"/><circle cx="935.6" cy="537.4" r="1.65" fill="#f0141e"/>
<line x1="882.9" y1="455" x2="882.9" y2="655" stroke="#0a0a0a" stroke-width="1.9" stroke-dasharray="6.4 3.4" stroke-dashoffset="-0.5"/>
<line x1="838.6" y1="622.6" x2="1039.4" y2="622.6" stroke="#0a0a0a" stroke-width="1.9" stroke-dasharray="6.4 3.4"/>
<circle cx="952.6" cy="524.1" r="2.1" fill="#8a1a1a" stroke="#0a0a0a" stroke-width="1.1"/>
<text x="886.5" y="498.2" font-size="10.8" font-weight="bold" fill="#1a1a1a" textLength="138" lengthAdjust="spacingAndGlyphs">MYC_LVSE<tspan fill="#f0141e">K</tspan><tspan fill="#f0141e" font-size="6" dy="-3.8">148</tspan><tspan dy="3.8">LASYQAAR</tspan></text>
<line x1="948.8" y1="482.5" x2="948.8" y2="488.3" stroke="#222" stroke-width="0.9"/>
<circle cx="948.8" cy="478.5" r="4.1" fill="#f5a81c" stroke="#111" stroke-width="1.2"/>
<text x="948.8" y="480.1" font-size="4.6" text-anchor="middle" font-weight="normal" font-style="normal" fill="#222" >Ac</text>
</g>
<g id="panelE">
<text x="166" y="729.3" font-size="29.5" text-anchor="start" font-weight="normal" font-style="normal" fill="#111" >e</text>
<line x1="207.1" y1="764.7" x2="207.1" y2="770.7" stroke="#222" stroke-width="1.1"/><circle cx="207.1" cy="760.9000000000001" r="4.2" fill="#fff" stroke="#2e6da4" stroke-width="1"/><line x1="224.29999999999998" y1="764.7" x2="224.29999999999998" y2="770.7" stroke="#222" stroke-width="1.1"/><circle cx="224.29999999999998" cy="760.9000000000001" r="4.2" fill="#fff" stroke="#2e6da4" stroke-width="1"/><line x1="224.29999999999998" y1="790.7" x2="224.29999999999998" y2="797.2" stroke="#222" stroke-width="1.1"/><circle cx="224.29999999999998" cy="800.5" r="4.2" fill="#fff" stroke="#2e6da4" stroke-width="0.9"/><rect x="199.1" y="770.7" width="34" height="20" rx="2" fill="#5b9bd5" stroke="#4a86c0" stroke-width="0.9"/>
<line x1="262.0" y1="761.1" x2="262.0" y2="767.1" stroke="#222" stroke-width="1.1"/><circle cx="262.0" cy="757.3000000000001" r="4.2" fill="#fff" stroke="#2e6da4" stroke-width="1"/><line x1="278.6" y1="761.1" x2="278.6" y2="767.1" stroke="#222" stroke-width="1.1"/><circle cx="278.6" cy="757.3000000000001" r="4.2" fill="#fff" stroke="#2e6da4" stroke-width="1"/><line x1="278.6" y1="787.1" x2="278.6" y2="793.6" stroke="#222" stroke-width="1.1"/><circle cx="278.6" cy="796.9" r="4.2" fill="#fff" stroke="#2e6da4" stroke-width="0.9"/><rect x="254.3" y="767.1" width="34" height="20" rx="2" fill="#5b9bd5" stroke="#4a86c0" stroke-width="0.9"/>
<line x1="240" y1="807.7" x2="240" y2="813.7" stroke="#222" stroke-width="1.1"/><circle cx="240" cy="803.9000000000001" r="4.2" fill="#fff" stroke="#2e6da4" stroke-width="1"/><line x1="256.3" y1="807.7" x2="256.3" y2="813.7" stroke="#222" stroke-width="1.1"/><circle cx="256.3" cy="803.9000000000001" r="4.2" fill="#fff" stroke="#2e6da4" stroke-width="1"/><line x1="256.3" y1="833.7" x2="256.3" y2="840.2" stroke="#222" stroke-width="1.1"/><circle cx="256.3" cy="843.5" r="4.2" fill="#fff" stroke="#2e6da4" stroke-width="0.9"/><rect x="232" y="813.7" width="34" height="20" rx="2" fill="#5b9bd5" stroke="#4a86c0" stroke-width="0.9"/>
<line x1="281.4" y1="817.7" x2="281.4" y2="823.7" stroke="#222" stroke-width="1.1"/><circle cx="281.4" cy="813.9000000000001" r="4.2" fill="#fff" stroke="#2e6da4" stroke-width="1"/><line x1="298.59999999999997" y1="817.7" x2="298.59999999999997" y2="823.7" stroke="#222" stroke-width="1.1"/><circle cx="298.59999999999997" cy="813.9000000000001" r="4.2" fill="#fff" stroke="#2e6da4" stroke-width="1"/><line x1="298.59999999999997" y1="843.7" x2="298.59999999999997" y2="850.2" stroke="#222" stroke-width="1.1"/><circle cx="298.59999999999997" cy="853.5" r="4.2" fill="#fff" stroke="#2e6da4" stroke-width="0.9"/><rect x="273.4" y="823.7" width="34" height="20" rx="2" fill="#5b9bd5" stroke="#4a86c0" stroke-width="0.9"/>
<text x="254.3" y="878.6" font-size="16.3" font-weight="bold" text-anchor="middle" fill="#111" textLength="108.6" lengthAdjust="spacingAndGlyphs">Accumulation</text>
<line x1="376.3" y1="772" x2="376.3" y2="783.7" stroke="#111" stroke-width="2.8"/><circle cx="376.3" cy="762.6" r="10.1" fill="#fff" stroke="#2e6da4" stroke-width="2.4"/><line x1="414.3" y1="772" x2="414.3" y2="783.7" stroke="#111" stroke-width="2.8"/><circle cx="414.3" cy="762.6" r="10.1" fill="#fff" stroke="#2e6da4" stroke-width="2.4"/><line x1="414.6" y1="832.0" x2="414.6" y2="846" stroke="#111" stroke-width="2.8"/><circle cx="414.3" cy="855.7" r="10.1" fill="#fff" stroke="#2e6da4" stroke-width="2.4"/><rect x="357.1" y="783.7" width="80" height="48.3" rx="6" fill="#5b9bd5" stroke="#41719c" stroke-width="1.5"/><text x="397.1" y="815.8" font-size="22.8" fill="#fff" text-anchor="middle" textLength="48.5" lengthAdjust="spacingAndGlyphs">MYC</text>
<line x1="565.7" y1="772" x2="565.7" y2="783.7" stroke="#111" stroke-width="2.8"/><circle cx="565.7" cy="762.6" r="10.1" fill="#d9d9d9" stroke="#2e6da4" stroke-width="2.4"/><line x1="604.9" y1="772" x2="604.9" y2="783.7" stroke="#111" stroke-width="2.8"/><circle cx="604.9" cy="762.6" r="10.1" fill="#e2efda" stroke="#2e6da4" stroke-width="2.4"/><line x1="600.6" y1="832.0" x2="600.6" y2="846" stroke="#111" stroke-width="2.8"/><circle cx="600.3000000000001" cy="855.7" r="10.1" fill="#e8312a" stroke="#2e6da4" stroke-width="2.4"/><rect x="542.9" y="783.7" width="79.2" height="48.3" rx="6" fill="#5b9bd5" stroke="#41719c" stroke-width="1.5"/><text x="582.5" y="815.8" font-size="22.8" fill="#fff" text-anchor="middle" textLength="48.5" lengthAdjust="spacingAndGlyphs">MYC</text>
<text x="360.9" y="862.3" font-size="15.6" text-anchor="start" font-weight="normal" font-style="normal" fill="#111" textLength="36.3" lengthAdjust="spacingAndGlyphs">K148</text>
<text x="543.7" y="862.1" font-size="15.6" text-anchor="start" font-weight="normal" font-style="normal" fill="#111" textLength="37.5" lengthAdjust="spacingAndGlyphs">K148</text>
<path d="M314.3,810 L323.6,801.3 L323.6,805.2 L348.6,805.2 L348.6,814.8 L323.6,814.8 L323.6,818.7 Z" fill="#0a0a0a"/>
<path d="M456.3,798 L511.5,798 L511.5,795 L522.9,800.1 L511.5,805.2 L511.5,802.3 L456.3,802.3 Z" fill="#0a0a0a"/>
<path d="M522.9,813.4 L467.8,813.4 L467.8,810.6 L456.3,815.6 L467.8,820.8 L467.8,817.8 L522.9,817.8 Z" fill="#0a0a0a"/>
<path d="M630.6,804.4 L656,804.4 L656,800.8 L665.8,809.4 L656,818 L656,814.4 L630.6,814.4 Z" fill="#0a0a0a"/>
<path d="M749.9,803.8 L776,803.8 L776,800 L785.4,808.7 L776,817.4 L776,813.5 L749.9,813.5 Z" fill="#0a0a0a"/>
<text x="486" y="732.3" font-size="14.7" text-anchor="middle" fill="#111" textLength="112" lengthAdjust="spacingAndGlyphs">Ac-Transferases,</text>
<text x="486" y="750" font-size="14.7" text-anchor="middle" fill="#111" textLength="102.2" lengthAdjust="spacingAndGlyphs">Kinases, others</text>
<text x="486.7" y="872.9" font-size="14.7" text-anchor="middle" fill="#111" textLength="95.2" lengthAdjust="spacingAndGlyphs">Phosphatases,</text>
<text x="487.8" y="890.9" font-size="14.7" text-anchor="middle" fill="#111" textLength="157" lengthAdjust="spacingAndGlyphs">Deacetylases (<tspan fill="#c8141e" font-weight="bold">HDAC6</tspan>),</text>
<text x="487.8" y="908" font-size="14.7" text-anchor="middle" fill="#111" textLength="41.5" lengthAdjust="spacingAndGlyphs">others</text>
<text x="711" y="723.5" font-size="16.4" text-anchor="middle" fill="#111" textLength="162" lengthAdjust="spacingAndGlyphs">Proteasome-mediated</text>
<text x="710.8" y="743.2" font-size="16.4" text-anchor="middle" fill="#111" textLength="86.6" lengthAdjust="spacingAndGlyphs">degradation</text>
<path d="M607.6,864.6 c1.2,3.6 3.8,3.8 5,1.2 s3.8,-0.8 3,2.6 s1.8,4.2 4.4,2.6" fill="none" stroke="#2e6da4" stroke-width="2.2" stroke-linecap="round"/>
<text x="622.3" y="882" font-size="13.3" text-anchor="middle" font-weight="normal" font-style="normal" fill="#111" >C</text>
<text x="643" y="862.8" font-size="13.3" text-anchor="middle" font-weight="normal" font-style="normal" fill="#111" >O</text>
<text x="634.9" y="901" font-size="13.3" text-anchor="start" font-weight="normal" font-style="normal" fill="#111" >CH3</text>
<path d="M625.3,871.6 L637.2,862.4 M627,873.8 L638.9,864.6 M626,882 L635.6,892" stroke="#111" stroke-width="1.2" fill="none"/>
<path d="M676,757 L741,762 L733.5,866.5 L677.3,859.5 Z" fill="#5b9bd5"/><ellipse cx="708" cy="757.5" rx="30" ry="7" transform="rotate(5 708 757.5)" fill="#5b9bd5"/><ellipse cx="705.3" cy="863" rx="28.5" ry="8.2" transform="rotate(7 705.3 863)" fill="#5b9bd5" stroke="#4a86c0" stroke-width="0.8"/><ellipse cx="704.5" cy="864.2" rx="22.5" ry="5" transform="rotate(7 704.5 864.2)" fill="#bdd7ee"/><circle cx="733.3" cy="766.1" r="9.2" fill="#8fc651" stroke="#111" stroke-width="1.1"/><circle cx="733.3" cy="785.3" r="9.2" fill="#ffc000" stroke="#111" stroke-width="1.1"/><circle cx="733.3" cy="804" r="9.2" fill="#f6ea1c" stroke="#111" stroke-width="1.1"/><circle cx="733.3" cy="820" r="9.2" fill="#f6ea1c" stroke="#111" stroke-width="1.1"/><circle cx="733.3" cy="836" r="9.2" fill="#ffc000" stroke="#111" stroke-width="1.1"/><circle cx="733.3" cy="853.3" r="9.2" fill="#8fc651" stroke="#111" stroke-width="1.1"/><circle cx="684" cy="760" r="9.2" fill="#8fc651" stroke="#111" stroke-width="1.1"/><circle cx="684" cy="775.5" r="9.2" fill="#ffc000" stroke="#111" stroke-width="1.1"/><circle cx="684" cy="790.7" r="9.2" fill="#f6ea1c" stroke="#111" stroke-width="1.1"/><circle cx="684" cy="808.8" r="9.2" fill="#f6ea1c" stroke="#111" stroke-width="1.1"/><circle cx="684" cy="826.7" r="9.2" fill="#ffc000" stroke="#111" stroke-width="1.1"/><circle cx="684" cy="842.7" r="9.2" fill="#8fc651" stroke="#111" stroke-width="1.1"/><circle cx="718.1" cy="761.3" r="9.2" fill="#8fc651" stroke="#111" stroke-width="1.1"/><circle cx="718.1" cy="778.7" r="9.2" fill="#ffc000" stroke="#111" stroke-width="1.1"/><circle cx="718.1" cy="796" r="9.2" fill="#f6ea1c" stroke="#111" stroke-width="1.1"/><circle cx="718.1" cy="813.3" r="9.2" fill="#f6ea1c" stroke="#111" stroke-width="1.1"/><circle cx="718.1" cy="830.7" r="9.2" fill="#ffc000" stroke="#111" stroke-width="1.1"/><circle cx="718.1" cy="846.7" r="9.2" fill="#8fc651" stroke="#111" stroke-width="1.1"/><circle cx="701.3" cy="759.2" r="9.2" fill="#8fc651" stroke="#111" stroke-width="1.1"/><circle cx="701.3" cy="777.3" r="9.2" fill="#ffc000" stroke="#111" stroke-width="1.1"/><circle cx="701.3" cy="794.7" r="9.2" fill="#f6ea1c" stroke="#111" stroke-width="1.1"/><circle cx="701.3" cy="812" r="9.2" fill="#f6ea1c" stroke="#111" stroke-width="1.1"/><circle cx="701.3" cy="828" r="9.2" fill="#ffc000" stroke="#111" stroke-width="1.1"/><circle cx="701.3" cy="844" r="9.2" fill="#8fc651" stroke="#111" stroke-width="1.1"/>
<line x1="846.7" y1="771.4" x2="846.7" y2="777.4" stroke="#222" stroke-width="1.1"/><circle cx="846.7" cy="768.6999999999999" r="4.3" fill="#d9d9d9" stroke="#2e6da4" stroke-width="1"/><line x1="863.2" y1="771.4" x2="863.2" y2="777.4" stroke="#222" stroke-width="1.1"/><circle cx="863.2" cy="768.6999999999999" r="4.3" fill="#e2efda" stroke="#2e6da4" stroke-width="1"/><line x1="861.3000000000001" y1="797.4" x2="861.3000000000001" y2="803.9" stroke="#222" stroke-width="1.1"/><circle cx="861.3000000000001" cy="808.0" r="4.3" fill="#c9211e" stroke="#2e6da4" stroke-width="0.7"/><rect x="838.1" y="777.4" width="32" height="20" rx="2" fill="#5b9bd5" stroke="#4a86c0" stroke-width="0.9"/>
<path d="M864.9,811.0 l3,0.4 l-1.8,2.6 l3,0.6" fill="none" stroke="#2e6da4" stroke-width="0.9"/><text x="871.1999999999999" y="819.6" font-size="6.2" fill="#222" text-anchor="middle">C</text><path d="M872.9,814.6 L877.6999999999999,810.6 M873.6999999999999,815.5 L878.5,811.5" stroke="#666" stroke-width="0.55"/><path d="M873.0999999999999,819.4 L876.6999999999999,823.6" stroke="#555" stroke-width="0.6"/><text x="879.5999999999999" y="811.6" font-size="5.4" fill="#222" text-anchor="middle">O</text>
<line x1="813.3" y1="806" x2="813.3" y2="812" stroke="#222" stroke-width="1.1"/><circle cx="813.3" cy="803.3" r="4.3" fill="#d9d9d9" stroke="#2e6da4" stroke-width="1"/><line x1="829.9" y1="806" x2="829.9" y2="812" stroke="#222" stroke-width="1.1"/><circle cx="829.9" cy="803.3" r="4.3" fill="#e2efda" stroke="#2e6da4" stroke-width="1"/><line x1="827.5" y1="832" x2="827.5" y2="838.5" stroke="#222" stroke-width="1.1"/><circle cx="827.5" cy="842.6" r="4.3" fill="#c9211e" stroke="#2e6da4" stroke-width="0.7"/><rect x="803.5" y="812" width="32.5" height="20" rx="2" fill="#5b9bd5" stroke="#4a86c0" stroke-width="0.9"/>
<path d="M831.1,845.0 l3,0.4 l-1.8,2.6 l3,0.6" fill="none" stroke="#2e6da4" stroke-width="0.9"/><text x="837.4" y="853.6" font-size="6.2" fill="#222" text-anchor="middle">C</text><path d="M839.1,848.6 L843.9,844.6 M839.9,849.5 L844.7,845.5" stroke="#666" stroke-width="0.55"/><path d="M839.3,853.4 L842.9,857.6" stroke="#555" stroke-width="0.6"/><text x="845.8" y="845.6" font-size="5.4" fill="#222" text-anchor="middle">O</text>
<text x="839.8" y="880" font-size="16.3" font-weight="bold" text-anchor="middle" fill="#111" textLength="72.5" lengthAdjust="spacingAndGlyphs">Decrease</text>
</g>
</svg></body></html>
